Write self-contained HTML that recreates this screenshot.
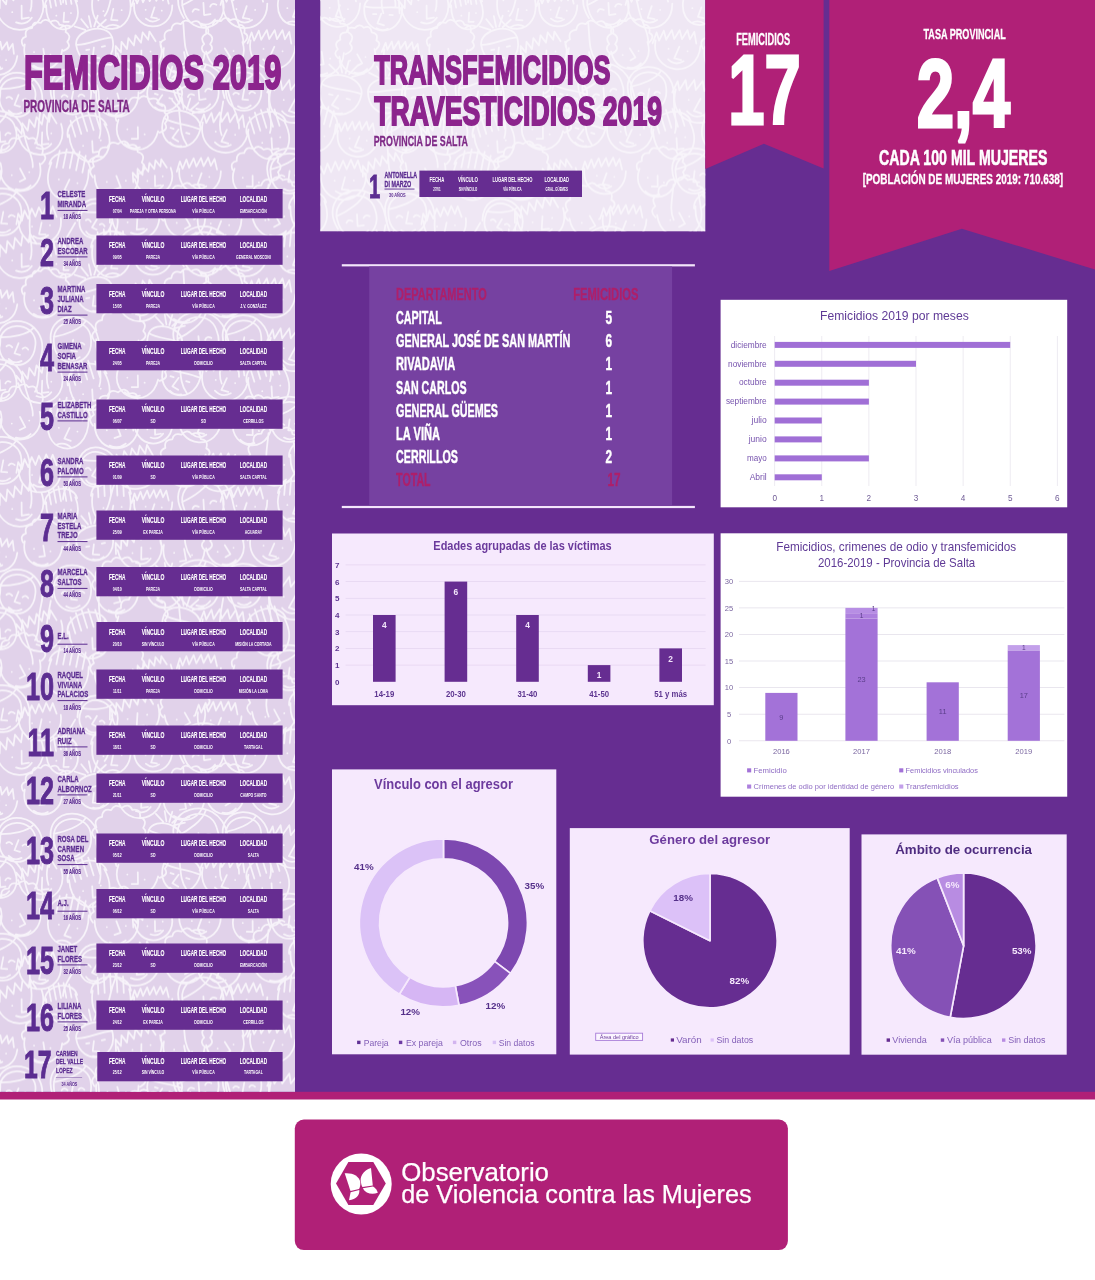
<!DOCTYPE html>
<html lang="es"><head><meta charset="utf-8"><title>Femicidios 2019 - Provincia de Salta</title>
<style>html,body{margin:0;padding:0;background:#fff}svg{display:block;font-family:"Liberation Sans",sans-serif}</style></head><body>
<svg width="1095" height="1280" viewBox="0 0 1095 1280">
<defs><pattern id="faces" width="405" height="248.4" patternUnits="userSpaceOnUse"><path d="M-3.8,9.2C4.6,44.6 53.5,30.3 41.5,-4.0M-5.4,13.4L-6.1,1.3L-0.3,8.2L0.1,-3.3L6.1,4.4L7.4,-7.3L13.5,0.4L15.0,-10.5L21.1,-2.8L22.6,-13.7L28.7,-6.0L29.9,-14.8L36.7,-4.5M21.6,5.6L21.7,18.8L28.9,17.6M16.1,22.3Q25.7,26.1 31.8,17.7M12.2,12.1L12.3,12.1M31.4,6.5L31.5,6.5M-3.8,257.6C4.6,293.0 53.5,278.7 41.5,244.4M-5.4,261.8L-6.1,249.7L-0.3,256.6L0.1,245.1L6.1,252.8L7.4,241.1L13.5,248.8L15.0,237.9L21.1,245.6L22.6,234.7L28.7,242.4L29.9,233.6L36.7,243.9M21.6,254.0L21.7,267.2L28.9,266.0M16.1,270.7Q25.7,274.5 31.8,266.1M12.2,260.5L12.3,260.5M31.4,254.9L31.5,254.9M401.2,9.2C409.6,44.6 458.5,30.3 446.5,-4.0M399.6,13.4L398.9,1.3L404.7,8.2L405.1,-3.3L411.1,4.4L412.4,-7.3L418.5,0.4L420.0,-10.5L426.1,-2.8L427.6,-13.7L433.7,-6.0L434.9,-14.8L441.7,-4.5M426.6,5.6L426.7,18.8L433.9,17.6M421.1,22.3Q430.7,26.1 436.8,17.7M417.2,12.1L417.3,12.1M436.4,6.5L436.5,6.5M401.2,257.6C409.6,293.0 458.5,278.7 446.5,244.4M399.6,261.8L398.9,249.7L404.7,256.6L405.1,245.1L411.1,252.8L412.4,241.1L418.5,248.8L420.0,237.9L426.1,245.6L427.6,234.7L433.7,242.4L434.9,233.6L441.7,243.9M426.6,254.0L426.7,267.2L433.9,266.0M421.1,270.7Q430.7,274.5 436.8,266.1M417.2,260.5L417.3,260.5M436.4,254.9L436.5,254.9M46.2,5.4C45.3,41.7 89.0,33.8 75.3,0.2M45.0,7.2C43.6,-9.1 72.7,-14.4 77.1,1.4M48.7,-5.5L51.1,7.6M53.4,-8.6L56.1,5.9M58.4,-10.3L61.0,4.3M63.6,-10.5L66.3,4.1M69.1,-9.2L71.5,3.9M64.1,12.7L63.5,21.9L68.7,21.7M56.3,15.6L56.4,15.6M70.9,13.0L71.0,13.0M59.4,28.6Q64.6,23.9 71.1,26.5M46.2,253.8C45.3,290.1 89.0,282.2 75.3,248.6M45.0,255.6C43.6,239.3 72.7,234.0 77.1,249.8M48.7,242.9L51.1,256.0M53.4,239.8L56.1,254.3M58.4,238.1L61.0,252.7M63.6,237.9L66.3,252.5M69.1,239.2L71.5,252.3M64.1,261.1L63.5,270.3L68.7,270.1M56.3,264.0L56.4,264.0M70.9,261.4L71.0,261.4M59.4,277.0Q64.6,272.3 71.1,274.9M92.7,-3.0C85.7,41.1 140.3,38.5 129.1,-4.7M91.0,-1.1C91.9,-21.2 128.2,-22.9 131.0,-3.0M97.6,-16.0L98.4,0.4M103.8,-19.0L104.7,-0.8M110.1,-20.2L111.0,-2.0M116.5,-19.6L117.4,-1.4M123.0,-17.2L123.8,-0.8M113.3,8.8L111.1,19.8L117.5,20.4M103.4,11.1L103.5,11.1M121.6,10.2L121.7,10.2M105.1,27.4Q112.2,22.5 119.7,26.7M92.7,245.4C85.7,289.5 140.3,286.9 129.1,243.7M91.0,247.3C91.9,227.2 128.2,225.5 131.0,245.4M97.6,232.4L98.4,248.8M103.8,229.4L104.7,247.6M110.1,228.2L111.0,246.4M116.5,228.8L117.4,247.0M123.0,231.2L123.8,247.6M113.3,257.2L111.1,268.2L117.5,268.8M103.4,259.5L103.5,259.5M121.6,258.6L121.7,258.6M105.1,275.8Q112.2,270.9 119.7,275.1M134.2,3.3C131.2,32.5 172.2,34.7 172.3,5.3M131.8,6.1L134.5,-3.3L137.1,3.4L140.5,-5.2L143.0,2.3L147.2,-6.3L149.7,1.2L153.8,-6.7L156.3,0.8L160.4,-7.1L163.0,0.4L166.3,-6.1L168.7,3.6M154.5,7.3L151.1,17.4L156.9,18.4M145.9,18.6Q152.2,24.1 159.0,19.3M145.6,9.8L145.7,9.8M161.7,10.6L161.8,10.6M134.2,251.7C131.2,280.9 172.2,283.1 172.3,253.7M131.8,254.5L134.5,245.1L137.1,251.8L140.5,243.2L143.0,250.7L147.2,242.1L149.7,249.6L153.8,241.7L156.3,249.2L160.4,241.3L163.0,248.8L166.3,242.3L168.7,252.0M154.5,255.7L151.1,265.8L156.9,266.8M145.9,267.0Q152.2,272.5 159.0,267.7M145.6,258.2L145.7,258.2M161.7,259.0L161.8,259.0M183.1,8.7C190.6,41.0 232.9,28.6 221.9,-2.6C214.6,-27.3 175.9,-15.9 183.1,8.7M183.9,18.1C158.7,-22.3 223.9,-41.4 232.9,5.6C236.3,23.8 244.7,32.8 243.3,44.6M182.1,5.2C193.9,-0.1 208.2,-10.1 211.2,-19.5M203.4,2.8L204.1,15.0L210.5,14.1M192.6,11.7Q194.2,7.4 198.8,9.9M210.2,6.6Q211.8,2.3 216.4,4.7M200.9,23.6Q209.5,26.8 215.0,19.5M183.2,22.1C184.8,40.7 183.9,50.6 190.5,60.1M183.1,257.1C190.6,289.4 232.9,277.0 221.9,245.8C214.6,221.1 175.9,232.5 183.1,257.1M183.9,266.5C158.7,226.1 223.9,207.0 232.9,254.0C236.3,272.2 244.7,281.2 243.3,293.0M182.1,253.6C193.9,248.3 208.2,238.3 211.2,228.9M203.4,251.2L204.1,263.4L210.5,262.5M192.6,260.1Q194.2,255.8 198.8,258.3M210.2,255.0Q211.8,250.7 216.4,253.1M200.9,272.0Q209.5,275.2 215.0,267.9M183.2,270.5C184.8,289.1 183.9,299.0 190.5,308.5M223.2,1.7C219.9,35.5 267.4,37.6 267.3,3.6M220.5,4.9L223.5,-6.0L226.5,1.8L230.4,-8.2L233.4,0.4L238.1,-9.6L241.1,-0.9L245.8,-10.1L248.8,-1.4L253.4,-10.6L256.5,-2.0L260.2,-9.4L263.1,1.7M246.7,6.1L242.8,17.8L249.6,19.0M236.8,19.3Q244.2,25.5 252.1,19.9M236.4,9.0L236.5,9.1M255.1,9.9L255.2,9.9M223.2,250.1C219.9,283.9 267.4,286.0 267.3,252.0M220.5,253.3L223.5,242.4L226.5,250.2L230.4,240.2L233.4,248.8L238.1,238.8L241.1,247.5L245.8,238.3L248.8,247.0L253.4,237.8L256.5,246.4L260.2,239.0L263.1,250.1M246.7,254.5L242.8,266.2L249.6,267.4M236.8,267.7Q244.2,273.9 252.1,268.3M236.4,257.4L236.5,257.5M255.1,258.3L255.2,258.3M279.6,-5.4C268.2,32.4 316.4,36.6 311.7,-2.6M277.9,-3.9C281.0,-21.5 313.1,-18.6 313.2,-0.8M285.4,-16.2L284.2,-1.8M291.2,-18.1L289.8,-2.1M296.9,-18.4L295.5,-2.4M302.5,-17.2L301.1,-1.1M307.9,-14.3L306.6,0.2M296.3,7.4L293.0,16.8L298.6,18.1M287.3,8.2L287.4,8.2M303.4,9.6L303.5,9.6M286.9,22.7Q293.6,19.3 299.7,23.9M279.6,243.0C268.2,280.8 316.4,285.0 311.7,245.8M277.9,244.5C281.0,226.9 313.1,229.8 313.2,247.6M285.4,232.2L284.2,246.6M291.2,230.3L289.8,246.3M296.9,230.0L295.5,246.0M302.5,231.2L301.1,247.3M307.9,234.1L306.6,248.6M296.3,255.8L293.0,265.2L298.6,266.5M287.3,256.6L287.4,256.6M303.4,258.0L303.5,258.0M286.9,271.1Q293.6,267.7 299.7,272.3M316.8,0.1C312.7,33.3 359.2,36.8 360.1,3.4M314.1,3.3L317.4,-7.3L320.1,0.4L324.2,-9.3L326.9,-0.8L331.8,-10.4L334.5,-1.9L339.4,-10.7L342.1,-2.1L346.9,-11.0L349.6,-2.4L353.5,-9.7L356.0,1.4M339.9,5.2L335.7,16.6L342.3,17.9M329.7,17.8Q336.8,24.2 344.7,19.0M329.6,7.8L329.7,7.8M347.9,9.2L348.0,9.2M316.8,248.5C312.7,281.7 359.2,285.2 360.1,251.8M314.1,251.7L317.4,241.1L320.1,248.8L324.2,239.1L326.9,247.6L331.8,238.0L334.5,246.5L339.4,237.7L342.1,246.3L346.9,237.4L349.6,246.0L353.5,238.7L356.0,249.8M339.9,253.6L335.7,265.0L342.3,266.3M329.7,266.2Q336.8,272.6 344.7,267.4M329.6,256.2L329.7,256.2M347.9,257.6L348.0,257.6M-40.6,6.1C-43.9,37.3 -2.8,39.5 -2.7,8.1C-4.3,-8.5 -37.3,-10.3 -40.6,6.1M-24.2,-7.9L-28.6,-18.0M-20.9,-7.7L-20.3,-19.2M-17.6,-7.5L-11.3,-17.1M-27.6,-6.4L-37.1,-12.7M-14.4,-5.7L-4.2,-10.9M-40.6,6.1C-30.1,9.9 -16.6,5.7 -2.7,8.1M-23.7,13.6L-27.5,23.3L-21.0,25.3M-32.0,14.0L-28.7,14.1M-15.5,14.9L-12.2,15.0M-28.6,28.2Q-23.0,31.8 -17.1,28.8M-40.6,254.5C-43.9,285.7 -2.8,287.9 -2.7,256.5C-4.3,239.9 -37.3,238.1 -40.6,254.5M-24.2,240.5L-28.6,230.4M-20.9,240.7L-20.3,229.2M-17.6,240.9L-11.3,231.3M-27.6,242.0L-37.1,235.7M-14.4,242.7L-4.2,237.5M-40.6,254.5C-30.1,258.3 -16.6,254.1 -2.7,256.5M-23.7,262.0L-27.5,271.7L-21.0,273.7M-32.0,262.4L-28.7,262.5M-15.5,263.3L-12.2,263.4M-28.6,276.6Q-23.0,280.2 -17.1,277.2M364.4,6.1C361.1,37.3 402.2,39.5 402.3,8.1C400.7,-8.5 367.7,-10.3 364.4,6.1M380.8,-7.9L376.4,-18.0M384.1,-7.7L384.7,-19.2M387.4,-7.5L393.7,-17.1M377.4,-6.4L367.9,-12.7M390.6,-5.7L400.8,-10.9M364.4,6.1C374.9,9.9 388.4,5.7 402.3,8.1M381.3,13.6L377.5,23.3L384.0,25.3M373.0,14.0L376.3,14.1M389.5,14.9L392.8,15.0M376.4,28.2Q382.0,31.8 387.9,28.8M364.4,254.5C361.1,285.7 402.2,287.9 402.3,256.5C400.7,239.9 367.7,238.1 364.4,254.5M380.8,240.5L376.4,230.4M384.1,240.7L384.7,229.2M387.4,240.9L393.7,231.3M377.4,242.0L367.9,235.7M390.6,242.7L400.8,237.5M364.4,254.5C374.9,258.3 388.4,254.1 402.3,256.5M381.3,262.0L377.5,271.7L384.0,273.7M373.0,262.4L376.3,262.5M389.5,263.3L392.8,263.4M376.4,276.6Q382.0,280.2 387.9,277.2M-20.5,49.2C-27.2,78.0 13.6,85.3 17.3,55.9M-23.2,51.7L-19.4,42.7L-17.6,49.7L-13.2,41.5L-11.6,49.3L-6.4,41.2L-4.7,49.0L0.3,41.7L1.9,49.4L7.0,42.1L8.6,49.9L12.7,43.9L13.9,53.8M-0.7,55.7L-5.4,65.4L0.3,67.2M-10.8,66.0Q-5.1,72.2 2.3,68.3M-9.9,57.1L-9.9,57.1M6.1,59.9L6.1,60.0M384.5,49.2C377.8,78.0 418.6,85.3 422.3,55.9M381.8,51.7L385.6,42.7L387.4,49.7L391.8,41.5L393.4,49.3L398.6,41.2L400.3,49.0L405.3,41.7L406.9,49.4L412.0,42.1L413.6,49.9L417.7,43.9L418.9,53.8M404.3,55.7L399.6,65.4L405.3,67.2M394.2,66.0Q399.9,72.2 407.3,68.3M395.1,57.1L395.1,57.1M411.1,59.9L411.1,60.0M24.8,44.4C19.0,73.7 59.4,79.6 62.2,49.8M23.1,45.7Q19.3,38.8 26.0,36.6Q24.0,28.4 32.0,28.0Q33.1,20.2 40.7,22.9Q44.7,17.1 50.3,21.9Q57.2,18.1 59.5,24.8Q67.5,24.4 65.6,32.0Q72.2,35.4 67.3,41.8Q72.1,47.3 63.6,50.8M43.3,48.7L44.9,59.2L39.3,60.0M34.0,52.1L34.1,52.1M50.4,54.5L50.5,54.5M33.7,65.6Q40.1,70.5 47.8,66.8M24.8,292.8C19.0,322.1 59.4,328.0 62.2,298.2M23.1,294.1Q19.3,287.2 26.0,285.0Q24.0,276.8 32.0,276.4Q33.1,268.6 40.7,271.3Q44.7,265.5 50.3,270.3Q57.2,266.5 59.5,273.2Q67.5,272.8 65.6,280.4Q72.2,283.8 67.3,290.2Q72.1,295.7 63.6,299.2M43.3,297.1L44.9,307.6L39.3,308.4M34.0,300.5L34.1,300.5M50.4,302.9L50.5,302.9M33.7,314.0Q40.1,318.9 47.8,315.2M429.8,44.4C424.0,73.7 464.4,79.6 467.2,49.8M428.1,45.7Q424.3,38.8 431.0,36.6Q429.0,28.4 437.0,28.0Q438.1,20.2 445.7,22.9Q449.7,17.1 455.3,21.9Q462.2,18.1 464.5,24.8Q472.5,24.4 470.6,32.0Q477.2,35.4 472.3,41.8Q477.1,47.3 468.6,50.8M448.3,48.7L449.9,59.2L444.3,60.0M439.0,52.1L439.1,52.1M455.4,54.5L455.5,54.5M438.7,65.6Q445.1,70.5 452.8,66.8M429.8,292.8C424.0,322.1 464.4,328.0 467.2,298.2M428.1,294.1Q424.3,287.2 431.0,285.0Q429.0,276.8 437.0,276.4Q438.1,268.6 445.7,271.3Q449.7,265.5 455.3,270.3Q462.2,266.5 464.5,273.2Q472.5,272.8 470.6,280.4Q477.2,283.8 472.3,290.2Q477.1,295.7 468.6,299.2M448.3,297.1L449.9,307.6L444.3,308.4M439.0,300.5L439.1,300.5M455.4,302.9L455.5,302.9M438.7,314.0Q445.1,318.9 452.8,315.2M76.1,44.8C80.9,74.9 120.0,66.5 112.1,37.2C106.4,22.0 75.1,28.7 76.1,44.8M88.0,27.6L81.3,19.2M91.1,26.9L88.8,16.0M94.2,26.3L97.7,15.7M85.2,29.8L74.6,26.4M97.7,27.2L105.9,19.7M76.1,44.8C87.0,45.8 98.4,38.4 112.1,37.2M93.9,47.6L92.7,57.6L99.3,57.9M86.2,50.0L89.3,49.4M101.8,46.7L105.0,46.0M93.0,62.5Q99.1,64.4 103.9,60.1M76.1,293.2C80.9,323.3 120.0,314.9 112.1,285.6C106.4,270.4 75.1,277.1 76.1,293.2M88.0,276.0L81.3,267.6M91.1,275.3L88.8,264.4M94.2,274.7L97.7,264.1M85.2,278.2L74.6,274.8M97.7,275.6L105.9,268.1M76.1,293.2C87.0,294.2 98.4,286.8 112.1,285.6M93.9,296.0L92.7,306.0L99.3,306.3M86.2,298.4L89.3,297.8M101.8,295.1L105.0,294.4M93.0,310.9Q99.1,312.8 103.9,308.5M117.6,53.3C124.8,86.5 170.7,74.1 160.1,41.8M116.0,57.3L115.6,46.0L120.9,52.4L121.5,41.7L127.0,49.0L128.4,38.1L133.9,45.4L135.5,35.3L141.0,42.6L142.7,32.4L148.2,39.7L149.4,31.5L155.6,41.2M141.4,50.4L141.2,62.7L148.0,61.8M135.9,65.9Q144.9,69.7 150.7,61.9M132.5,56.3L132.5,56.3M150.5,51.4L150.6,51.4M117.6,301.7C124.8,334.9 170.7,322.5 160.1,290.2M116.0,305.7L115.6,294.4L120.9,300.8L121.5,290.1L127.0,297.4L128.4,286.5L133.9,293.8L135.5,283.7L141.0,291.0L142.7,280.8L148.2,288.1L149.4,279.9L155.6,289.6M141.4,298.8L141.2,311.1L148.0,310.2M135.9,314.3Q144.9,318.1 150.7,310.3M132.5,304.7L132.5,304.7M150.5,299.8L150.6,299.8M163.9,47.9C158.2,80.0 202.4,85.5 204.7,52.9M162.0,49.4Q157.7,42.0 165.0,39.4Q162.6,30.5 171.3,29.8Q172.4,21.3 180.7,24.1Q184.9,17.7 191.2,22.8Q198.6,18.5 201.2,25.7Q209.9,25.1 208.0,33.5Q215.3,37.0 210.1,44.1Q215.4,49.9 206.3,54.0M184.1,52.1L186.1,63.6L180.0,64.6M174.1,56.1L174.2,56.1M192.0,58.3L192.1,58.3M174.0,70.7Q181.2,75.9 189.4,71.8M206.2,51.6C212.2,80.7 251.6,70.4 242.5,42.1M205.1,53.5Q199.0,48.6 204.2,44.0Q199.2,37.2 206.4,33.7Q204.4,26.2 212.4,25.7Q213.8,18.9 220.9,21.1Q225.8,14.9 230.4,20.2Q237.5,16.7 238.8,24.5Q246.2,25.0 244.2,32.8Q250.6,35.9 244.3,42.4M224.8,48.3L230.4,57.4L225.5,60.3M217.6,55.0L217.7,55.0M233.5,50.9L233.6,50.9M222.5,67.5Q230.3,69.5 235.9,63.2M206.2,300.0C212.2,329.1 251.6,318.8 242.5,290.5M205.1,301.9Q199.0,297.0 204.2,292.4Q199.2,285.6 206.4,282.1Q204.4,274.6 212.4,274.1Q213.8,267.3 220.9,269.5Q225.8,263.3 230.4,268.6Q237.5,265.1 238.8,272.9Q246.2,273.4 244.2,281.2Q250.6,284.3 244.3,290.8M224.8,296.7L230.4,305.8L225.5,308.7M217.6,303.4L217.7,303.4M233.5,299.3L233.6,299.3M222.5,315.9Q230.3,317.9 235.9,311.6M250.6,40.2C244.5,74.4 292.8,80.6 295.4,45.9M247.6,43.3L251.6,32.4L254.1,40.6L258.8,30.7L261.2,39.7L266.8,30.0L269.2,39.0L274.7,30.1L277.0,39.1L282.5,30.2L284.9,39.3L289.3,31.9L291.3,43.6M274.3,46.7L269.3,58.3L276.1,60.0M263.1,59.3Q270.1,66.3 278.6,61.2M263.5,48.8L263.6,48.8M282.5,51.2L282.6,51.2M250.6,288.6C244.5,322.8 292.8,329.0 295.4,294.3M247.6,291.7L251.6,280.8L254.1,289.0L258.8,279.1L261.2,288.1L266.8,278.4L269.2,287.4L274.7,278.5L277.0,287.5L282.5,278.6L284.9,287.7L289.3,280.3L291.3,292.0M274.3,295.1L269.3,306.7L276.1,308.4M263.1,307.7Q270.1,314.7 278.6,309.6M263.5,297.2L263.6,297.2M282.5,299.6L282.6,299.6M299.9,46.9C293.4,81.5 341.0,88.0 343.9,52.9M297.9,48.5Q293.4,40.4 301.2,37.8Q298.8,28.1 308.2,27.5Q309.5,18.4 318.4,21.5Q323.0,14.6 329.7,20.2Q337.8,15.7 340.5,23.6Q349.9,23.0 347.7,32.0Q355.6,35.9 349.8,43.5Q355.5,49.9 345.6,54.1M321.7,51.8L323.7,64.2L317.0,65.1M310.8,55.9L310.9,55.9M330.1,58.5L330.2,58.5M310.5,71.7Q318.2,77.4 327.2,73.0M339.4,56.6C343.8,84.6 381.8,76.6 374.5,49.1M338.2,58.3Q332.6,53.4 337.8,49.2Q333.4,42.6 340.4,39.5Q338.8,32.2 346.4,32.2Q348.1,25.7 354.7,28.1Q359.7,22.5 363.8,27.7Q370.8,24.7 371.6,32.2Q378.7,33.0 376.4,40.3Q382.5,43.6 376.1,49.6M357.2,54.3L362.2,63.2L357.4,65.7M350.1,60.4L350.2,60.4M365.5,57.1L365.5,57.1M354.2,72.5Q361.6,74.8 367.2,69.0M0.0,92.1C-5.9,120.8 32.6,126.6 35.3,97.5C38.7,75.0 3.4,69.7 0.0,92.1M-2.8,99.9C-8.0,58.1 51.4,67.1 41.1,108.2C37.1,124.0 40.4,134.4 35.0,143.4M0.5,88.9C12.0,89.0 27.2,86.4 33.1,79.9M18.5,94.9L14.5,105.0L20.0,106.6M6.5,98.0Q9.4,95.2 12.2,98.9M22.6,100.5Q25.5,97.6 28.2,101.3M8.7,110.7Q14.4,116.5 21.6,112.6M-4.9,102.9C-10.5,118.5 -14.9,126.0 -13.2,136.1M405.0,92.1C399.1,120.8 437.6,126.6 440.3,97.5C443.7,75.0 408.4,69.7 405.0,92.1M402.2,99.9C397.0,58.1 456.4,67.1 446.1,108.2C442.1,124.0 445.4,134.4 440.0,143.4M405.5,88.9C417.0,89.0 432.2,86.4 438.1,79.9M423.5,94.9L419.5,105.0L425.0,106.6M411.5,98.0Q414.4,95.2 417.2,98.9M427.6,100.5Q430.5,97.6 433.2,101.3M413.7,110.7Q419.4,116.5 426.6,112.6M400.1,102.9C394.5,118.5 390.1,126.0 391.8,136.1M53.8,92.0C53.1,122.5 93.7,121.2 91.0,90.8C90.2,67.1 53.0,68.3 53.8,92.0M52.4,100.5C39.2,58.6 101.8,56.6 98.9,100.7C97.8,117.7 103.2,127.7 99.3,137.9M53.7,88.6C65.5,86.5 80.5,81.0 85.4,73.2M73.2,91.3L71.1,102.4L77.0,103.1M61.6,96.8Q64.0,93.3 67.5,96.6M78.5,96.3Q80.9,92.8 84.4,96.1M66.2,109.4Q73.1,114.2 79.7,108.9M50.8,103.9C47.9,120.9 44.8,129.5 48.5,139.6M96.2,90.9C93.3,124.4 139.2,125.8 138.5,92.2M94.3,92.6Q89.3,85.4 96.4,82.1Q93.2,73.2 102.1,71.7Q102.3,62.8 111.1,64.9Q114.9,57.9 121.8,62.6Q129.0,57.5 132.3,64.7Q141.2,63.2 140.0,72.0Q147.9,74.9 143.2,82.7Q149.2,88.2 140.2,93.2M117.3,93.3L120.4,104.9L114.2,106.5M107.4,98.3L107.5,98.3M125.9,98.9L126.0,98.9M108.7,113.4Q116.5,118.0 124.6,113.0M148.8,84.8C139.3,111.9 175.4,122.6 182.1,94.7C184.2,79.6 155.3,71.0 148.8,84.8M166.4,75.9L164.7,65.9M169.3,76.7L172.3,66.6M172.2,77.6L179.9,70.4M163.1,76.5L155.9,68.8M174.7,79.9L184.9,77.4M148.8,84.8C157.4,90.5 170.2,89.6 182.1,94.7M162.3,95.1L156.9,102.9L162.2,106.1M154.9,93.7L157.8,94.6M169.3,98.0L172.2,98.8M154.8,107.1Q159.1,111.5 165.0,110.1M178.4,94.2C186.6,126.0 228.3,112.8 216.6,82.1C208.9,57.7 170.7,69.8 178.4,94.2M179.4,103.4C153.5,63.8 217.8,43.5 227.7,90.0C231.5,107.9 240.0,116.7 239.0,128.5M177.3,90.7C188.9,85.1 202.9,74.9 205.6,65.5M198.4,87.8L199.4,100.0L205.7,98.9M187.9,96.9Q189.4,92.6 194.0,95.0M205.2,91.4Q206.8,87.1 211.3,89.5M196.3,108.6Q204.9,111.6 210.2,104.2M178.8,107.4C180.8,125.9 180.1,135.7 186.9,145.0M225.8,89.9C225.7,118.9 264.3,116.9 261.2,88.1C260.1,65.6 224.7,67.4 225.8,89.9M224.6,98.0C211.3,58.4 270.8,55.3 268.9,97.3C268.1,113.5 273.5,122.9 269.9,132.8M225.7,86.7C236.8,84.5 251.1,78.9 255.5,71.4M244.3,88.9L242.4,99.5L248.1,100.0M233.3,94.3Q235.6,91.0 238.9,94.0M249.4,93.5Q251.6,90.2 255.0,93.2M238.0,106.2Q244.6,110.7 250.8,105.5M223.2,101.3C220.8,117.5 218.0,125.7 221.7,135.2M270.8,89.3C260.5,125.5 311.8,137.2 318.3,100.2M267.2,92.3L272.7,81.1L274.4,90.1L280.6,80.0L282.2,90.0L289.3,80.1L290.8,90.0L297.7,81.0L299.3,91.0L306.1,82.0L307.7,92.0L313.3,84.6L314.2,97.3M295.5,98.8L288.9,110.8L296.1,113.4M282.1,111.2Q288.9,119.4 298.6,114.9M283.7,100.0L283.8,100.0M303.9,104.6L303.9,104.6M321.6,83.8C311.3,116.5 354.9,127.7 361.6,94.1C363.5,76.0 328.6,67.1 321.6,83.8M342.1,72.4L339.6,60.6M345.6,73.3L348.7,61.1M349.1,74.2L357.9,65.3M338.2,73.2L329.3,64.5M352.1,76.8L364.2,73.4M321.6,83.8C332.0,90.2 347.3,88.6 361.6,94.1M338.1,95.5L331.9,105.0L338.4,108.6M329.1,94.1L332.6,95.0M346.6,98.6L350.0,99.5M329.7,110.1Q334.9,115.1 341.9,113.2M-37.1,91.5C-36.8,122.3 3.7,119.7 0.1,89.1C-3.4,73.1 -35.7,75.1 -37.1,91.5M-22.7,75.9L-28.2,66.5M-19.5,75.7L-20.2,64.4M-16.2,75.5L-11.2,65.4M-25.8,77.8L-35.9,72.7M-12.9,76.9L-3.5,70.6M-37.1,91.5C-26.4,94.0 -13.8,88.4 0.1,89.1M-19.7,96.9L-22.3,106.8L-15.8,108.0M-27.8,98.2L-24.5,98.0M-11.6,97.2L-8.3,96.9M-22.8,111.7Q-17.0,114.6 -11.5,111.0M367.9,91.5C368.2,122.3 408.7,119.7 405.1,89.1C401.6,73.1 369.3,75.1 367.9,91.5M382.3,75.9L376.8,66.5M385.5,75.7L384.8,64.4M388.8,75.5L393.8,65.4M379.2,77.8L369.1,72.7M392.1,76.9L401.5,70.6M367.9,91.5C378.6,94.0 391.2,88.4 405.1,89.1M385.3,96.9L382.7,106.8L389.2,108.0M377.2,98.2L380.5,98.0M393.4,97.2L396.7,96.9M382.2,111.7Q388.0,114.6 393.5,111.0M-17.3,136.6C-11.4,163.6 24.1,153.7 15.2,127.5C9.5,106.8 -23.1,115.9 -17.3,136.6M-16.7,144.4C-37.4,110.3 17.3,95.0 24.4,134.5C27.0,149.7 33.9,157.4 32.7,167.3M-18.1,133.6C-8.2,129.3 3.9,121.1 6.5,113.2M-0.3,131.8L0.2,142.1L5.5,141.4M-9.4,139.2Q-8.0,135.6 -4.2,137.7M5.4,135.0Q6.8,131.5 10.5,133.6M-2.6,149.2Q4.5,152.0 9.2,145.9M-17.4,147.8C-16.2,163.4 -17.1,171.6 -11.7,179.7M387.7,136.6C393.6,163.6 429.1,153.7 420.2,127.5C414.5,106.8 381.9,115.9 387.7,136.6M388.3,144.4C367.6,110.3 422.3,95.0 429.4,134.5C432.0,149.7 438.9,157.4 437.7,167.3M386.9,133.6C396.8,129.3 408.9,121.1 411.5,113.2M404.7,131.8L405.2,142.1L410.5,141.4M395.6,139.2Q397.0,135.6 400.8,137.7M410.4,135.0Q411.8,131.5 415.5,133.6M402.4,149.2Q409.5,152.0 414.2,145.9M387.6,147.8C388.8,163.4 387.9,171.6 393.3,179.7M18.3,134.8C25.0,168.2 71.2,156.4 61.1,123.9M16.6,138.7L16.4,127.4L21.6,134.0L22.3,123.2L27.7,130.6L29.3,119.7L34.7,127.1L36.5,117.0L41.9,124.4L43.7,114.3L49.1,121.7L50.5,113.4L56.6,123.3M42.2,132.2L41.8,144.6L48.6,143.7M36.5,147.7Q45.4,151.6 51.3,143.9M33.1,138.0L33.2,138.0M51.3,133.4L51.3,133.4M423.3,134.8C430.0,168.2 476.2,156.4 466.1,123.9M421.6,138.7L421.4,127.4L426.6,134.0L427.3,123.2L432.7,130.6L434.3,119.7L439.7,127.1L441.5,117.0L446.9,124.4L448.7,114.3L454.1,121.7L455.5,113.4L461.6,123.3M447.2,132.2L446.8,144.6L453.6,143.7M441.5,147.7Q450.4,151.6 456.3,143.9M438.1,138.0L438.2,138.0M456.3,133.4L456.3,133.4M69.0,134.7C73.2,179.6 126.1,163.4 104.3,123.8M67.8,137.0C63.6,117.1 98.8,106.2 106.6,125.1M70.5,120.7L75.4,136.6M75.9,116.2L81.3,133.8M81.8,113.4L87.2,131.0M88.2,112.4L93.6,130.0M95.2,113.1L100.1,129.0M92.2,141.0L92.8,152.4L99.2,151.4M83.1,145.8L83.1,145.8M100.7,140.4L100.8,140.3M88.8,161.4Q94.5,154.8 102.9,157.0M118.5,119.6C107.7,150.4 150.5,163.0 158.1,131.2M116.4,120.7Q113.4,112.7 121.0,111.3Q120.1,102.1 128.8,102.9Q131.2,94.7 139.0,98.7Q144.2,93.1 149.6,99.2Q157.6,96.2 159.0,103.7Q167.7,104.5 164.5,112.5Q171.2,117.2 164.9,123.4Q169.2,130.0 159.5,132.5M137.8,127.0L138.0,138.7L131.7,138.7M127.3,129.3L127.4,129.3M144.6,134.4L144.7,134.4M124.8,143.8Q131.0,150.1 139.9,147.3M164.1,117.9C152.9,147.3 192.3,159.9 200.3,129.5C203.0,113.0 171.5,102.9 164.1,117.9M183.6,108.5L181.9,97.6M186.8,109.5L190.3,98.5M189.9,110.5L198.4,102.8M179.9,109.1L172.3,100.5M192.5,113.1L203.8,110.6M164.1,117.9C173.3,124.3 187.4,123.6 200.3,129.5M178.6,129.5L172.4,137.9L178.2,141.5M170.5,127.8L173.6,128.8M186.2,132.8L189.4,133.8M170.1,142.4Q174.6,147.3 181.2,146.0M202.8,122.3C195.5,157.2 244.7,165.0 248.5,129.6M199.6,125.4L204.0,114.4L206.3,122.9L211.5,112.9L213.6,122.2L219.7,112.4L221.8,121.7L227.7,112.8L229.9,122.1L235.8,113.1L237.9,122.5L242.7,115.1L244.4,127.1M226.8,129.8L221.4,141.5L228.3,143.5M214.9,142.3Q221.9,149.7 230.8,144.8M215.7,131.6L215.8,131.6M235.1,134.7L235.2,134.7M247.9,131.5C252.3,177.3 306.1,160.7 283.8,120.4M246.7,133.8C242.4,113.6 278.3,102.5 286.2,121.6M249.4,117.3L254.4,133.4M254.9,112.6L260.4,130.6M260.9,109.8L266.4,127.7M267.4,108.8L273.0,126.7M274.5,109.5L279.5,125.7M271.5,138.0L272.2,149.5L278.7,148.5M262.2,142.8L262.3,142.8M280.2,137.3L280.3,137.2M268.1,158.7Q273.9,152.0 282.5,154.2M301.3,115.3C281.6,154.4 333.4,168.2 335.8,124.5M299.1,116.5C305.9,98.0 340.4,107.2 337.1,126.7M309.7,104.5L305.5,120.1M316.4,103.6L311.8,120.8M322.7,104.3L318.1,121.6M328.5,106.8L323.9,124.1M333.9,111.0L329.7,126.5M317.1,132.4L311.7,142.1L317.5,144.6M307.1,131.6L307.2,131.6M324.4,136.2L324.5,136.2M303.8,147.4Q311.9,144.9 317.7,151.1M338.0,130.8C332.6,161.5 376.0,166.9 378.3,135.8M335.3,133.6L338.9,123.8L341.1,131.2L345.4,122.3L347.5,130.4L352.5,121.6L354.7,129.7L359.6,121.7L361.7,129.8L366.7,121.7L368.8,129.9L372.8,123.3L374.6,133.7M359.3,136.6L354.9,147.0L361.0,148.6M349.3,147.9Q355.6,154.2 363.2,149.6M349.6,138.5L349.7,138.5M366.7,140.6L366.8,140.6M-0.2,170.5C3.7,202.4 46.9,194.8 39.7,163.4M-1.6,172.4Q-7.8,166.6 -1.7,162.1Q-6.5,154.4 1.5,151.3Q0.1,143.0 8.7,143.2Q10.8,135.9 18.2,138.9Q24.0,132.8 28.5,138.8Q36.5,135.7 37.2,144.2Q45.1,145.3 42.2,153.6Q48.9,157.5 41.5,164.0M20.0,168.6L25.3,178.8L19.7,181.5M11.8,175.2L11.8,175.2M29.2,172.1L29.3,172.1M15.9,189.1Q24.1,191.9 30.7,185.6M404.8,170.5C408.7,202.4 451.9,194.8 444.7,163.4M403.4,172.4Q397.2,166.6 403.3,162.1Q398.5,154.4 406.5,151.3Q405.1,143.0 413.7,143.2Q415.8,135.9 423.2,138.9Q429.0,132.8 433.5,138.8Q441.5,135.7 442.2,144.2Q450.1,145.3 447.2,153.6Q453.9,157.5 446.5,164.0M425.0,168.6L430.3,178.8L424.7,181.5M416.8,175.2L416.8,175.2M434.2,172.1L434.3,172.1M420.9,189.1Q429.1,191.9 435.7,185.6M51.5,162.6C33.4,205.3 89.1,216.3 88.7,169.9M49.3,164.0C55.2,144.0 92.4,151.4 90.2,172.1M59.7,150.7L56.4,167.4M66.7,149.2L63.1,167.7M73.4,149.5L69.7,168.1M79.7,151.7L76.1,170.3M85.7,155.8L82.4,172.5M69.4,179.6L64.4,190.2L70.7,192.4M58.8,179.4L58.9,179.5M77.4,183.1L77.5,183.1M56.4,196.3Q64.8,193.2 71.3,199.3M94.6,175.4C94.9,209.8 141.9,206.9 138.0,172.7M92.9,177.3Q87.0,170.4 94.0,166.4Q89.9,157.6 98.8,155.2Q98.2,146.2 107.4,147.4Q110.5,140.0 118.0,144.0Q124.9,138.2 129.0,145.2Q137.9,142.8 137.6,151.9Q145.9,154.1 141.8,162.5Q148.5,167.5 139.8,173.5M116.4,175.9L120.7,187.4L114.5,189.6M106.8,181.9L106.9,181.9M125.8,180.7L125.9,180.7M109.6,197.1Q118.0,201.1 125.8,195.2M134.6,178.9C141.6,207.1 180.6,195.2 170.7,167.8M133.3,182.3L132.7,172.6L137.3,178.0L137.6,168.8L142.5,174.9L143.4,165.5L148.3,171.6L149.4,162.9L154.3,169.0L155.5,160.3L160.4,166.4L161.3,159.3L166.8,167.5M154.9,175.7L155.1,186.3L160.8,185.3M150.6,189.1Q158.3,192.1 163.1,185.3M147.4,181.0L147.4,181.0M162.7,176.4L162.7,176.3M179.4,168.6C175.7,200.3 220.4,203.3 220.9,171.3M176.8,171.6L179.9,161.4L182.6,168.8L186.4,159.4L189.1,167.6L193.7,158.3L196.4,166.5L201.0,158.0L203.6,166.1L208.2,157.6L210.9,165.8L214.5,158.9L217.0,169.4M201.6,173.2L197.6,184.2L204.0,185.4M191.9,185.4Q198.7,191.5 206.3,186.3M191.8,175.8L191.9,175.8M209.3,176.9L209.4,176.9M234.5,168.7C224.3,197.5 264.5,209.3 271.5,179.5M232.5,169.8Q229.7,162.2 236.8,161.0Q236.0,152.3 244.1,153.1Q246.4,145.3 253.6,149.2Q258.5,143.9 263.6,149.6Q271.1,146.7 272.4,153.8Q280.5,154.6 277.5,162.0Q283.8,166.4 277.9,172.2Q281.9,178.4 272.8,180.8M252.6,175.7L252.7,186.6L246.8,186.5M242.7,177.8L242.8,177.8M258.9,182.5L259.0,182.6M240.4,191.3Q246.2,197.2 254.5,194.7M270.6,172.9C272.0,202.8 311.7,198.7 307.0,169.2C304.6,146.0 268.3,149.7 270.6,172.9M269.8,181.3C254.0,141.2 315.2,134.9 315.4,178.3C315.5,195.0 321.5,204.4 318.3,214.8M270.3,169.6C281.7,166.7 296.1,160.2 300.3,152.3M289.6,170.9L288.3,181.9L294.1,182.2M278.6,177.1Q280.7,173.5 284.4,176.5M295.1,175.4Q297.2,171.8 300.9,174.8M284.0,189.1Q291.1,193.3 297.2,187.7M268.5,184.8C266.9,201.7 264.4,210.3 268.7,219.8M320.6,174.0C319.3,208.8 368.1,208.2 365.9,173.4M318.1,177.5L320.5,166.2L324.1,173.9L327.5,163.5L331.1,172.1L335.3,161.6L338.9,170.3L343.1,160.7L346.7,169.3L350.9,159.7L354.5,168.3L357.9,160.5L361.5,171.7M345.0,177.2L341.7,189.4L348.7,190.2M335.6,191.2Q343.6,197.2 351.3,191.0M334.6,180.8L334.7,180.8M353.8,180.5L353.9,180.5M-40.5,172.9C-34.4,204.7 9.6,194.0 0.4,162.9M-42.1,176.6L-42.2,165.8L-37.4,172.1L-36.5,161.9L-31.4,169.0L-29.8,158.6L-24.8,165.7L-22.9,156.1L-17.9,163.2L-16.0,153.6L-11.0,160.7L-9.6,152.8L-3.9,162.3M-17.7,170.7L-18.2,182.4L-11.7,181.7M-23.3,185.3Q-14.9,189.1 -9.1,181.9M-26.4,176.1L-26.3,176.1M-9.1,171.9L-9.0,171.9M364.5,172.9C370.6,204.7 414.6,194.0 405.4,162.9M362.9,176.6L362.8,165.8L367.6,172.1L368.5,161.9L373.6,169.0L375.2,158.6L380.2,165.7L382.1,156.1L387.1,163.2L389.0,153.6L394.0,160.7L395.4,152.8L401.1,162.3M387.3,170.7L386.8,182.4L393.3,181.7M381.7,185.3Q390.1,189.1 395.9,181.9M378.6,176.1L378.7,176.1M395.9,171.9L396.0,171.9M-16.6,-35.7C-17.1,-4.4 24.5,-6.2 21.4,-37.3C20.4,-61.5 -17.7,-59.9 -16.6,-35.7M-18.0,-27.0C-31.9,-69.7 32.1,-72.4 29.7,-27.2C28.6,-9.8 34.3,0.4 30.4,10.9M-16.8,-39.1C-4.7,-41.4 10.6,-47.2 15.5,-55.2M3.3,-36.5L1.1,-25.1L7.2,-24.5M-8.6,-30.8Q-6.2,-34.4 -2.6,-31.1M8.7,-31.5Q11.1,-35.1 14.7,-31.8M-3.8,-18.0Q3.4,-13.1 10.1,-18.6M-19.6,-23.4C-22.3,-6.0 -25.5,2.8 -21.6,13.1M-16.6,212.7C-17.1,244.0 24.5,242.2 21.4,211.1C20.4,186.9 -17.7,188.5 -16.6,212.7M-18.0,221.4C-31.9,178.7 32.1,176.0 29.7,221.2C28.6,238.6 34.3,248.8 30.4,259.3M-16.8,209.3C-4.7,207.0 10.6,201.2 15.5,193.2M3.3,211.9L1.1,223.3L7.2,223.9M-8.6,217.6Q-6.2,214.0 -2.6,217.3M8.7,216.9Q11.1,213.3 14.7,216.6M-3.8,230.4Q3.4,235.3 10.1,229.8M-19.6,225.0C-22.3,242.4 -25.5,251.2 -21.6,261.5M388.4,-35.7C387.9,-4.4 429.5,-6.2 426.4,-37.3C425.4,-61.5 387.3,-59.9 388.4,-35.7M387.0,-27.0C373.1,-69.7 437.1,-72.4 434.7,-27.2C433.6,-9.8 439.3,0.4 435.4,10.9M388.2,-39.1C400.3,-41.4 415.6,-47.2 420.5,-55.2M408.3,-36.5L406.1,-25.1L412.2,-24.5M396.4,-30.8Q398.8,-34.4 402.4,-31.1M413.7,-31.5Q416.1,-35.1 419.7,-31.8M401.2,-18.0Q408.4,-13.1 415.1,-18.6M385.4,-23.4C382.7,-6.0 379.5,2.8 383.4,13.1M388.4,212.7C387.9,244.0 429.5,242.2 426.4,211.1C425.4,186.9 387.3,188.5 388.4,212.7M387.0,221.4C373.1,178.7 437.1,176.0 434.7,221.2C433.6,238.6 439.3,248.8 435.4,259.3M388.2,209.3C400.3,207.0 415.6,201.2 420.5,193.2M408.3,211.9L406.1,223.3L412.2,223.9M396.4,217.6Q398.8,214.0 402.4,217.3M413.7,216.9Q416.1,213.3 419.7,216.6M401.2,230.4Q408.4,235.3 415.1,229.8M385.4,225.0C382.7,242.4 379.5,251.2 383.4,261.5M18.6,-27.5C19.2,5.0 64.5,2.0 60.8,-30.3M16.4,-24.1L18.2,-34.8L21.9,-27.7L24.5,-37.7L28.3,-29.8L31.7,-39.8L35.5,-31.9L38.9,-41.1L42.7,-33.2L46.2,-42.4L49.9,-34.5L52.7,-42.0L56.6,-31.6M41.6,-25.8L39.1,-14.2L45.6,-13.8M33.5,-12.2Q41.2,-7.0 48.1,-13.2M32.0,-21.9L32.1,-21.9M49.9,-23.1L50.0,-23.1M18.6,220.9C19.2,253.4 64.5,250.4 60.8,218.1M16.4,224.3L18.2,213.6L21.9,220.7L24.5,210.7L28.3,218.6L31.7,208.6L35.5,216.5L38.9,207.3L42.7,215.2L46.2,206.0L49.9,213.9L52.7,206.4L56.6,216.8M41.6,222.6L39.1,234.2L45.6,234.6M33.5,236.2Q41.2,241.4 48.1,235.2M32.0,226.5L32.1,226.5M49.9,225.3L50.0,225.3M423.6,-27.5C424.2,5.0 469.5,2.0 465.8,-30.3M421.4,-24.1L423.2,-34.8L426.9,-27.7L429.5,-37.7L433.3,-29.8L436.7,-39.8L440.5,-31.9L443.9,-41.1L447.7,-33.2L451.2,-42.4L454.9,-34.5L457.7,-42.0L461.6,-31.6M446.6,-25.8L444.1,-14.2L450.6,-13.8M438.5,-12.2Q446.2,-7.0 453.1,-13.2M437.0,-21.9L437.1,-21.9M454.9,-23.1L455.0,-23.1M423.6,220.9C424.2,253.4 469.5,250.4 465.8,218.1M421.4,224.3L423.2,213.6L426.9,220.7L429.5,210.7L433.3,218.6L436.7,208.6L440.5,216.5L443.9,207.3L447.7,215.2L451.2,206.0L454.9,213.9L457.7,206.4L461.6,216.8M446.6,222.6L444.1,234.2L450.6,234.6M438.5,236.2Q446.2,241.4 453.1,235.2M437.0,226.5L437.1,226.5M454.9,225.3L455.0,225.3M81.0,-34.3C71.7,-9.9 104.9,0.7 111.5,-24.6C117.7,-44.0 87.2,-53.7 81.0,-34.3M77.4,-27.9C78.8,-65.6 130.0,-49.2 115.0,-14.3C109.2,-0.9 110.7,8.7 104.6,15.9M81.9,-37.1C92.0,-35.4 105.8,-35.6 112.0,-40.5M96.9,-29.2L92.0,-20.9L96.6,-18.7M85.9,-28.2Q88.9,-30.3 90.8,-26.6M99.8,-23.8Q102.7,-25.9 104.6,-22.2M86.1,-16.7Q90.3,-10.8 97.1,-13.2M75.2,-25.5C68.0,-12.6 63.0,-6.6 63.1,2.6M81.0,214.1C71.7,238.5 104.9,249.1 111.5,223.8C117.7,204.4 87.2,194.7 81.0,214.1M77.4,220.5C78.8,182.8 130.0,199.2 115.0,234.1C109.2,247.5 110.7,257.1 104.6,264.3M81.9,211.3C92.0,213.0 105.8,212.8 112.0,207.9M96.9,219.2L92.0,227.5L96.6,229.7M85.9,220.2Q88.9,218.1 90.8,221.8M99.8,224.6Q102.7,222.5 104.6,226.2M86.1,231.7Q90.3,237.6 97.1,235.2M75.2,222.9C68.0,235.8 63.0,241.8 63.1,251.0M111.8,-29.9C118.1,6.0 167.8,-5.3 158.0,-40.4M109.9,-25.8L110.0,-37.9L115.4,-30.7L116.5,-42.2L122.1,-34.1L124.1,-45.8L129.6,-37.7L131.9,-48.5L137.4,-40.4L139.7,-51.2L145.2,-43.1L147.0,-51.9L153.1,-41.1M137.5,-32.0L136.7,-18.8L144.0,-19.5M130.9,-15.6Q140.3,-11.2 146.9,-19.2M127.6,-26.0L127.7,-26.1M147.1,-30.4L147.2,-30.5M111.8,218.5C118.1,254.4 167.8,243.1 158.0,208.0M109.9,222.6L110.0,210.5L115.4,217.7L116.5,206.2L122.1,214.3L124.1,202.6L129.6,210.7L131.9,199.9L137.4,208.0L139.7,197.2L145.2,205.3L147.0,196.5L153.1,207.3M137.5,216.4L136.7,229.6L144.0,228.9M130.9,232.8Q140.3,237.2 146.9,229.2M127.6,222.4L127.7,222.3M147.1,218.0L147.2,217.9M164.5,-29.8C169.7,2.0 212.7,-7.4 204.1,-38.5M163.2,-27.8Q156.8,-33.3 162.7,-38.0Q157.5,-45.6 165.4,-49.0Q163.6,-57.3 172.3,-57.5Q174.1,-64.8 181.6,-62.1Q187.1,-68.5 191.9,-62.6Q199.8,-66.1 200.8,-57.7Q208.8,-56.8 206.3,-48.5Q213.2,-44.8 206.0,-38.0M184.7,-32.5L190.3,-22.5L184.9,-19.5M176.7,-25.5L176.8,-25.5M194.0,-29.3L194.1,-29.3M181.4,-11.8Q189.8,-9.3 196.1,-15.9M164.5,218.6C169.7,250.4 212.7,241.0 204.1,209.9M163.2,220.6Q156.8,215.1 162.7,210.4Q157.5,202.8 165.4,199.4Q163.6,191.1 172.3,190.9Q174.1,183.6 181.6,186.3Q187.1,179.9 191.9,185.8Q199.8,182.3 200.8,190.7Q208.8,191.6 206.3,199.9Q213.2,203.6 206.0,210.4M184.7,215.9L190.3,225.9L184.9,228.9M176.7,222.9L176.8,222.9M194.0,219.1L194.1,219.1M181.4,236.6Q189.8,239.1 196.1,232.5M198.0,-32.9C193.1,0.5 240.0,4.9 241.5,-28.8M195.1,-29.8L198.7,-40.4L201.3,-32.6L205.6,-42.3L208.2,-33.6L213.3,-43.3L215.9,-34.6L220.9,-43.4L223.5,-34.7L228.5,-43.5L231.1,-34.8L235.2,-42.1L237.5,-30.8M221.1,-27.3L216.6,-15.9L223.3,-14.4M210.6,-14.8Q217.6,-8.2 225.7,-13.4M210.7,-24.9L210.8,-24.9M229.1,-23.2L229.2,-23.2M198.0,215.5C193.1,248.9 240.0,253.3 241.5,219.6M195.1,218.6L198.7,208.0L201.3,215.8L205.6,206.1L208.2,214.8L213.3,205.1L215.9,213.8L220.9,205.0L223.5,213.7L228.5,204.9L231.1,213.6L235.2,206.3L237.5,217.6M221.1,221.1L216.6,232.5L223.3,234.0M210.6,233.6Q217.6,240.2 225.7,235.0M210.7,223.5L210.8,223.5M229.1,225.2L229.2,225.2M252.1,-33.2C257.0,1.5 304.0,-7.6 295.5,-41.6M250.6,-31.1Q243.8,-37.2 250.3,-42.3Q245.0,-50.6 253.7,-54.2Q251.9,-63.2 261.3,-63.1Q263.5,-71.1 271.6,-68.0Q277.8,-74.8 282.8,-68.3Q291.5,-71.8 292.4,-62.6Q301.0,-61.5 298.1,-52.5Q305.5,-48.3 297.5,-41.1M274.2,-35.6L280.0,-24.6L274.1,-21.5M265.3,-28.3L265.3,-28.3M284.2,-31.9L284.3,-32.0M270.1,-13.2Q279.1,-10.3 286.1,-17.3M252.1,215.2C257.0,249.9 304.0,240.8 295.5,206.8M250.6,217.3Q243.8,211.2 250.3,206.1Q245.0,197.8 253.7,194.2Q251.9,185.2 261.3,185.3Q263.5,177.3 271.6,180.4Q277.8,173.6 282.8,180.1Q291.5,176.6 292.4,185.8Q301.0,186.9 298.1,195.9Q305.5,200.1 297.5,207.3M274.2,212.8L280.0,223.8L274.1,226.9M265.3,220.1L265.3,220.1M284.2,216.5L284.3,216.4M270.1,235.2Q279.1,238.1 286.1,231.1M290.5,-41.9C288.7,-0.0 339.4,-8.3 324.3,-47.4M289.1,-39.9C287.7,-58.8 321.5,-64.3 326.2,-46.0M293.6,-54.5L296.1,-39.3M299.1,-58.0L301.9,-41.2M304.9,-59.8L307.7,-43.0M310.9,-60.0L313.7,-43.1M317.3,-58.4L319.8,-43.2M311.0,-33.1L310.2,-22.6L316.2,-22.7M302.0,-29.9L302.1,-29.9M318.9,-32.7L319.0,-32.7M305.4,-14.9Q311.4,-20.2 318.9,-17.1M290.5,206.5C288.7,248.4 339.4,240.1 324.3,201.0M289.1,208.5C287.7,189.6 321.5,184.1 326.2,202.4M293.6,193.9L296.1,209.1M299.1,190.4L301.9,207.2M304.9,188.6L307.7,205.4M310.9,188.4L313.7,205.3M317.3,190.0L319.8,205.2M311.0,215.3L310.2,225.8L316.2,225.7M302.0,218.5L302.1,218.5M318.9,215.7L319.0,215.7M305.4,233.5Q311.4,228.2 318.9,231.3M337.3,-28.5C344.3,2.9 385.4,-8.8 375.0,-39.1C368.2,-63.1 330.5,-52.4 337.3,-28.5M338.0,-19.4C313.9,-58.8 377.3,-76.8 385.6,-31.0C388.7,-13.4 396.8,-4.6 395.4,6.9M336.3,-31.9C347.8,-37.0 361.8,-46.5 364.8,-55.7M357.0,-34.0L357.6,-22.2L363.8,-23.0M346.5,-25.5Q348.1,-29.7 352.5,-27.2M363.6,-30.4Q365.2,-34.5 369.6,-32.1M354.4,-13.9Q362.7,-10.7 368.1,-17.8M337.3,-15.5C338.7,2.6 337.7,12.1 344.0,21.4M337.3,219.9C344.3,251.3 385.4,239.6 375.0,209.3C368.2,185.3 330.5,196.0 337.3,219.9M338.0,229.0C313.9,189.6 377.3,171.6 385.6,217.4C388.7,235.0 396.8,243.8 395.4,255.3M336.3,216.5C347.8,211.4 361.8,201.9 364.8,192.7M357.0,214.4L357.6,226.2L363.8,225.4M346.5,222.9Q348.1,218.7 352.5,221.2M363.6,218.0Q365.2,213.9 369.6,216.3M354.4,234.5Q362.7,237.7 368.1,230.6M337.3,232.9C338.7,251.0 337.7,260.5 344.0,269.8" fill="none" stroke="#fff" stroke-width="1.75" stroke-linecap="round" stroke-linejoin="round" opacity="0.74"/></pattern></defs>
<rect x="0.0" y="0.0" width="1095.0" height="1280.0" fill="#fff"/>
<rect x="0.0" y="0.0" width="1095.0" height="1092.0" fill="#662d91"/>
<rect x="0.0" y="1091.8" width="1095.0" height="7.7" fill="#b02077"/>
<rect x="0.0" y="0.0" width="295.0" height="1091.8" fill="#e1d2ea"/>
<rect x="0" y="0" width="295.0" height="1091.8" fill="url(#faces)" opacity="1"/>
<rect x="320.3" y="0.0" width="385.0" height="231.3" fill="#efe7f4"/>
<rect x="320.3" y="0" width="385.0" height="231.3" fill="url(#faces)" opacity="0.8"/>
<path d="M705.3,0H823.6V168.4L763.9,143.8L705.3,169Z" fill="#b02077"/>
<path d="M829.3,0H1095V269.5L961.9,228.8L829.3,271Z" fill="#b02077"/>
<text x="763.2" y="45.1" font-size="16.3" font-weight="bold" fill="#fff" text-anchor="middle" textLength="54.1" lengthAdjust="spacingAndGlyphs" stroke="#fff" stroke-width="0.3" stroke-linejoin="miter" stroke-miterlimit="2">FEMICIDIOS</text>
<text x="764.4" y="123.9" font-size="98.6" font-weight="bold" fill="#fff" text-anchor="middle" textLength="72.5" lengthAdjust="spacingAndGlyphs" stroke="#fff" stroke-width="3" stroke-linejoin="miter" stroke-miterlimit="2">17</text>
<text x="964.6" y="38.9" font-size="15.1" font-weight="bold" fill="#fff" text-anchor="middle" textLength="82.3" lengthAdjust="spacingAndGlyphs" stroke="#fff" stroke-width="0.3" stroke-linejoin="miter" stroke-miterlimit="2">TASA PROVINCIAL</text>
<text x="963.4" y="126.8" font-size="95.5" font-weight="bold" fill="#fff" text-anchor="middle" textLength="93.5" lengthAdjust="spacingAndGlyphs" stroke="#fff" stroke-width="3" stroke-linejoin="miter" stroke-miterlimit="2">2,4</text>
<text x="963.2" y="164.5" font-size="22.2" font-weight="bold" fill="#fff" text-anchor="middle" textLength="168.3" lengthAdjust="spacingAndGlyphs" stroke="#fff" stroke-width="0.6" stroke-linejoin="miter" stroke-miterlimit="2">CADA 100 MIL MUJERES</text>
<text x="962.9" y="184.0" font-size="14" font-weight="bold" fill="#fff" text-anchor="middle" textLength="200.4" lengthAdjust="spacingAndGlyphs" stroke="#fff" stroke-width="0.3" stroke-linejoin="miter" stroke-miterlimit="2">[POBLACIÓN DE MUJERES 2019: 710.638]</text>
<text x="24.0" y="89.0" font-size="48.3" font-weight="bold" fill="#8c248d" textLength="257.3" lengthAdjust="spacingAndGlyphs" stroke="#8c248d" stroke-width="2.2" stroke-linejoin="miter" stroke-miterlimit="2">FEMICIDIOS 2019</text>
<text x="23.4" y="111.6" font-size="15.7" font-weight="bold" fill="#7f2a87" textLength="106.3" lengthAdjust="spacingAndGlyphs" stroke="#7f2a87" stroke-width="0.4" stroke-linejoin="miter" stroke-miterlimit="2">PROVINCIA DE SALTA</text>
<text x="374.3" y="83.6" font-size="40.4" font-weight="bold" fill="#8c248d" textLength="236.2" lengthAdjust="spacingAndGlyphs" stroke="#8c248d" stroke-width="1.9" stroke-linejoin="miter" stroke-miterlimit="2">TRANSFEMICIDIOS</text>
<text x="374.3" y="125.2" font-size="40.4" font-weight="bold" fill="#8c248d" textLength="287.7" lengthAdjust="spacingAndGlyphs" stroke="#8c248d" stroke-width="1.9" stroke-linejoin="miter" stroke-miterlimit="2">TRAVESTICIDIOS 2019</text>
<text x="373.7" y="146.2" font-size="14.2" font-weight="bold" fill="#7f2a87" textLength="94.3" lengthAdjust="spacingAndGlyphs" stroke="#7f2a87" stroke-width="0.3" stroke-linejoin="miter" stroke-miterlimit="2">PROVINCIA DE SALTA</text>
<rect x="96.4" y="189.0" width="186.2" height="29.3" fill="#662d91"/>
<text x="54.0" y="219.0" font-size="39.3" font-weight="bold" fill="#5c2d91" text-anchor="end" textLength="14.0" lengthAdjust="spacingAndGlyphs" stroke="#5c2d91" stroke-width="1.0" stroke-linejoin="miter" stroke-miterlimit="2">1</text>
<text x="117.2" y="201.7" font-size="8.4" font-weight="bold" fill="#fff" text-anchor="middle" textLength="16.5" lengthAdjust="spacingAndGlyphs" stroke="#fff" stroke-width="0.15" stroke-linejoin="miter" stroke-miterlimit="2">FECHA</text>
<text x="117.2" y="212.5" font-size="5.5" font-weight="bold" fill="#fff" text-anchor="middle" textLength="8.8" lengthAdjust="spacingAndGlyphs">07/04</text>
<text x="153.0" y="201.7" font-size="8.4" font-weight="bold" fill="#fff" text-anchor="middle" textLength="22.7" lengthAdjust="spacingAndGlyphs" stroke="#fff" stroke-width="0.15" stroke-linejoin="miter" stroke-miterlimit="2">VÍNCULO</text>
<text x="153.0" y="212.5" font-size="5.5" font-weight="bold" fill="#fff" text-anchor="middle" textLength="46.3" lengthAdjust="spacingAndGlyphs">PAREJA Y OTRA PERSONA</text>
<text x="203.5" y="201.7" font-size="8.4" font-weight="bold" fill="#fff" text-anchor="middle" textLength="45.5" lengthAdjust="spacingAndGlyphs" stroke="#fff" stroke-width="0.15" stroke-linejoin="miter" stroke-miterlimit="2">LUGAR DEL HECHO</text>
<text x="203.5" y="212.5" font-size="5.5" font-weight="bold" fill="#fff" text-anchor="middle" textLength="22.4" lengthAdjust="spacingAndGlyphs">VÍA PÚBLICA</text>
<text x="253.4" y="201.7" font-size="8.4" font-weight="bold" fill="#fff" text-anchor="middle" textLength="27.4" lengthAdjust="spacingAndGlyphs" stroke="#fff" stroke-width="0.15" stroke-linejoin="miter" stroke-miterlimit="2">LOCALIDAD</text>
<text x="253.4" y="212.5" font-size="5.5" font-weight="bold" fill="#fff" text-anchor="middle" textLength="26.8" lengthAdjust="spacingAndGlyphs">EMBARCACIÓN</text>
<text x="57.5" y="197.4" font-size="9.6" font-weight="bold" fill="#5c2d91" textLength="27.9" lengthAdjust="spacingAndGlyphs" stroke="#5c2d91" stroke-width="0.3" stroke-linejoin="miter" stroke-miterlimit="2">CELESTE</text>
<text x="57.5" y="207.1" font-size="9.6" font-weight="bold" fill="#5c2d91" textLength="28.6" lengthAdjust="spacingAndGlyphs" stroke="#5c2d91" stroke-width="0.3" stroke-linejoin="miter" stroke-miterlimit="2">MIRANDA</text>
<rect x="57.5" y="209.9" width="30.0" height="1.0" fill="#5c2d91"/>
<text x="72.3" y="219.4" font-size="6.3" font-weight="bold" fill="#5c2d91" text-anchor="middle" textLength="17.6" lengthAdjust="spacingAndGlyphs" stroke="#5c2d91" stroke-width="0.15" stroke-linejoin="miter" stroke-miterlimit="2">18 AÑOS</text>
<rect x="96.4" y="235.5" width="186.2" height="29.3" fill="#662d91"/>
<text x="54.0" y="265.5" font-size="39.3" font-weight="bold" fill="#5c2d91" text-anchor="end" textLength="14.0" lengthAdjust="spacingAndGlyphs" stroke="#5c2d91" stroke-width="1.0" stroke-linejoin="miter" stroke-miterlimit="2">2</text>
<text x="117.2" y="248.2" font-size="8.4" font-weight="bold" fill="#fff" text-anchor="middle" textLength="16.5" lengthAdjust="spacingAndGlyphs" stroke="#fff" stroke-width="0.15" stroke-linejoin="miter" stroke-miterlimit="2">FECHA</text>
<text x="117.2" y="259.0" font-size="5.5" font-weight="bold" fill="#fff" text-anchor="middle" textLength="8.8" lengthAdjust="spacingAndGlyphs">09/05</text>
<text x="153.0" y="248.2" font-size="8.4" font-weight="bold" fill="#fff" text-anchor="middle" textLength="22.7" lengthAdjust="spacingAndGlyphs" stroke="#fff" stroke-width="0.15" stroke-linejoin="miter" stroke-miterlimit="2">VÍNCULO</text>
<text x="153.0" y="259.0" font-size="5.5" font-weight="bold" fill="#fff" text-anchor="middle" textLength="14.0" lengthAdjust="spacingAndGlyphs">PAREJA</text>
<text x="203.5" y="248.2" font-size="8.4" font-weight="bold" fill="#fff" text-anchor="middle" textLength="45.5" lengthAdjust="spacingAndGlyphs" stroke="#fff" stroke-width="0.15" stroke-linejoin="miter" stroke-miterlimit="2">LUGAR DEL HECHO</text>
<text x="203.5" y="259.0" font-size="5.5" font-weight="bold" fill="#fff" text-anchor="middle" textLength="22.4" lengthAdjust="spacingAndGlyphs">VÍA PÚBLICA</text>
<text x="253.4" y="248.2" font-size="8.4" font-weight="bold" fill="#fff" text-anchor="middle" textLength="27.4" lengthAdjust="spacingAndGlyphs" stroke="#fff" stroke-width="0.15" stroke-linejoin="miter" stroke-miterlimit="2">LOCALIDAD</text>
<text x="253.4" y="259.0" font-size="5.5" font-weight="bold" fill="#fff" text-anchor="middle" textLength="34.9" lengthAdjust="spacingAndGlyphs">GENERAL MOSCONI</text>
<text x="57.5" y="243.9" font-size="9.6" font-weight="bold" fill="#5c2d91" textLength="25.9" lengthAdjust="spacingAndGlyphs" stroke="#5c2d91" stroke-width="0.3" stroke-linejoin="miter" stroke-miterlimit="2">ANDREA</text>
<text x="57.5" y="253.6" font-size="9.6" font-weight="bold" fill="#5c2d91" textLength="30.2" lengthAdjust="spacingAndGlyphs" stroke="#5c2d91" stroke-width="0.3" stroke-linejoin="miter" stroke-miterlimit="2">ESCOBAR</text>
<rect x="57.5" y="256.4" width="30.0" height="1.0" fill="#5c2d91"/>
<text x="72.3" y="265.9" font-size="6.3" font-weight="bold" fill="#5c2d91" text-anchor="middle" textLength="17.6" lengthAdjust="spacingAndGlyphs" stroke="#5c2d91" stroke-width="0.15" stroke-linejoin="miter" stroke-miterlimit="2">34 AÑOS</text>
<rect x="96.4" y="284.0" width="186.2" height="29.3" fill="#662d91"/>
<text x="54.0" y="314.0" font-size="39.3" font-weight="bold" fill="#5c2d91" text-anchor="end" textLength="14.0" lengthAdjust="spacingAndGlyphs" stroke="#5c2d91" stroke-width="1.0" stroke-linejoin="miter" stroke-miterlimit="2">3</text>
<text x="117.2" y="296.7" font-size="8.4" font-weight="bold" fill="#fff" text-anchor="middle" textLength="16.5" lengthAdjust="spacingAndGlyphs" stroke="#fff" stroke-width="0.15" stroke-linejoin="miter" stroke-miterlimit="2">FECHA</text>
<text x="117.2" y="307.5" font-size="5.5" font-weight="bold" fill="#fff" text-anchor="middle" textLength="8.8" lengthAdjust="spacingAndGlyphs">15/05</text>
<text x="153.0" y="296.7" font-size="8.4" font-weight="bold" fill="#fff" text-anchor="middle" textLength="22.7" lengthAdjust="spacingAndGlyphs" stroke="#fff" stroke-width="0.15" stroke-linejoin="miter" stroke-miterlimit="2">VÍNCULO</text>
<text x="153.0" y="307.5" font-size="5.5" font-weight="bold" fill="#fff" text-anchor="middle" textLength="14.0" lengthAdjust="spacingAndGlyphs">PAREJA</text>
<text x="203.5" y="296.7" font-size="8.4" font-weight="bold" fill="#fff" text-anchor="middle" textLength="45.5" lengthAdjust="spacingAndGlyphs" stroke="#fff" stroke-width="0.15" stroke-linejoin="miter" stroke-miterlimit="2">LUGAR DEL HECHO</text>
<text x="203.5" y="307.5" font-size="5.5" font-weight="bold" fill="#fff" text-anchor="middle" textLength="22.4" lengthAdjust="spacingAndGlyphs">VÍA PÚBLICA</text>
<text x="253.4" y="296.7" font-size="8.4" font-weight="bold" fill="#fff" text-anchor="middle" textLength="27.4" lengthAdjust="spacingAndGlyphs" stroke="#fff" stroke-width="0.15" stroke-linejoin="miter" stroke-miterlimit="2">LOCALIDAD</text>
<text x="253.4" y="307.5" font-size="5.5" font-weight="bold" fill="#fff" text-anchor="middle" textLength="26.3" lengthAdjust="spacingAndGlyphs">J.V. GONZÁLEZ</text>
<text x="57.5" y="292.4" font-size="9.6" font-weight="bold" fill="#5c2d91" textLength="27.9" lengthAdjust="spacingAndGlyphs" stroke="#5c2d91" stroke-width="0.3" stroke-linejoin="miter" stroke-miterlimit="2">MARTINA</text>
<text x="57.5" y="302.1" font-size="9.6" font-weight="bold" fill="#5c2d91" textLength="26.2" lengthAdjust="spacingAndGlyphs" stroke="#5c2d91" stroke-width="0.3" stroke-linejoin="miter" stroke-miterlimit="2">JULIANA</text>
<text x="57.5" y="311.8" font-size="9.6" font-weight="bold" fill="#5c2d91" textLength="14.1" lengthAdjust="spacingAndGlyphs" stroke="#5c2d91" stroke-width="0.3" stroke-linejoin="miter" stroke-miterlimit="2">DIAZ</text>
<rect x="57.5" y="314.6" width="30.0" height="1.0" fill="#5c2d91"/>
<text x="72.3" y="324.1" font-size="6.3" font-weight="bold" fill="#5c2d91" text-anchor="middle" textLength="17.6" lengthAdjust="spacingAndGlyphs" stroke="#5c2d91" stroke-width="0.15" stroke-linejoin="miter" stroke-miterlimit="2">25 AÑOS</text>
<rect x="96.4" y="341.0" width="186.2" height="29.3" fill="#662d91"/>
<text x="54.0" y="371.0" font-size="39.3" font-weight="bold" fill="#5c2d91" text-anchor="end" textLength="14.0" lengthAdjust="spacingAndGlyphs" stroke="#5c2d91" stroke-width="1.0" stroke-linejoin="miter" stroke-miterlimit="2">4</text>
<text x="117.2" y="353.7" font-size="8.4" font-weight="bold" fill="#fff" text-anchor="middle" textLength="16.5" lengthAdjust="spacingAndGlyphs" stroke="#fff" stroke-width="0.15" stroke-linejoin="miter" stroke-miterlimit="2">FECHA</text>
<text x="117.2" y="364.5" font-size="5.5" font-weight="bold" fill="#fff" text-anchor="middle" textLength="8.8" lengthAdjust="spacingAndGlyphs">24/05</text>
<text x="153.0" y="353.7" font-size="8.4" font-weight="bold" fill="#fff" text-anchor="middle" textLength="22.7" lengthAdjust="spacingAndGlyphs" stroke="#fff" stroke-width="0.15" stroke-linejoin="miter" stroke-miterlimit="2">VÍNCULO</text>
<text x="153.0" y="364.5" font-size="5.5" font-weight="bold" fill="#fff" text-anchor="middle" textLength="14.0" lengthAdjust="spacingAndGlyphs">PAREJA</text>
<text x="203.5" y="353.7" font-size="8.4" font-weight="bold" fill="#fff" text-anchor="middle" textLength="45.5" lengthAdjust="spacingAndGlyphs" stroke="#fff" stroke-width="0.15" stroke-linejoin="miter" stroke-miterlimit="2">LUGAR DEL HECHO</text>
<text x="203.5" y="364.5" font-size="5.5" font-weight="bold" fill="#fff" text-anchor="middle" textLength="18.6" lengthAdjust="spacingAndGlyphs">DOMICILIO</text>
<text x="253.4" y="353.7" font-size="8.4" font-weight="bold" fill="#fff" text-anchor="middle" textLength="27.4" lengthAdjust="spacingAndGlyphs" stroke="#fff" stroke-width="0.15" stroke-linejoin="miter" stroke-miterlimit="2">LOCALIDAD</text>
<text x="253.4" y="364.5" font-size="5.5" font-weight="bold" fill="#fff" text-anchor="middle" textLength="27.0" lengthAdjust="spacingAndGlyphs">SALTA CAPITAL</text>
<text x="57.5" y="349.4" font-size="9.6" font-weight="bold" fill="#5c2d91" textLength="24.2" lengthAdjust="spacingAndGlyphs" stroke="#5c2d91" stroke-width="0.3" stroke-linejoin="miter" stroke-miterlimit="2">GIMENA</text>
<text x="57.5" y="359.1" font-size="9.6" font-weight="bold" fill="#5c2d91" textLength="18.5" lengthAdjust="spacingAndGlyphs" stroke="#5c2d91" stroke-width="0.3" stroke-linejoin="miter" stroke-miterlimit="2">SOFIA</text>
<text x="57.5" y="368.8" font-size="9.6" font-weight="bold" fill="#5c2d91" textLength="29.9" lengthAdjust="spacingAndGlyphs" stroke="#5c2d91" stroke-width="0.3" stroke-linejoin="miter" stroke-miterlimit="2">BENASAR</text>
<rect x="57.5" y="371.6" width="30.0" height="1.0" fill="#5c2d91"/>
<text x="72.3" y="381.1" font-size="6.3" font-weight="bold" fill="#5c2d91" text-anchor="middle" textLength="17.6" lengthAdjust="spacingAndGlyphs" stroke="#5c2d91" stroke-width="0.15" stroke-linejoin="miter" stroke-miterlimit="2">24 AÑOS</text>
<rect x="96.4" y="399.5" width="186.2" height="29.3" fill="#662d91"/>
<text x="54.0" y="429.5" font-size="39.3" font-weight="bold" fill="#5c2d91" text-anchor="end" textLength="14.0" lengthAdjust="spacingAndGlyphs" stroke="#5c2d91" stroke-width="1.0" stroke-linejoin="miter" stroke-miterlimit="2">5</text>
<text x="117.2" y="412.2" font-size="8.4" font-weight="bold" fill="#fff" text-anchor="middle" textLength="16.5" lengthAdjust="spacingAndGlyphs" stroke="#fff" stroke-width="0.15" stroke-linejoin="miter" stroke-miterlimit="2">FECHA</text>
<text x="117.2" y="423.0" font-size="5.5" font-weight="bold" fill="#fff" text-anchor="middle" textLength="8.8" lengthAdjust="spacingAndGlyphs">06/07</text>
<text x="153.0" y="412.2" font-size="8.4" font-weight="bold" fill="#fff" text-anchor="middle" textLength="22.7" lengthAdjust="spacingAndGlyphs" stroke="#fff" stroke-width="0.15" stroke-linejoin="miter" stroke-miterlimit="2">VÍNCULO</text>
<text x="153.0" y="423.0" font-size="5.5" font-weight="bold" fill="#fff" text-anchor="middle" textLength="4.9" lengthAdjust="spacingAndGlyphs">SD</text>
<text x="203.5" y="412.2" font-size="8.4" font-weight="bold" fill="#fff" text-anchor="middle" textLength="45.5" lengthAdjust="spacingAndGlyphs" stroke="#fff" stroke-width="0.15" stroke-linejoin="miter" stroke-miterlimit="2">LUGAR DEL HECHO</text>
<text x="203.5" y="423.0" font-size="5.5" font-weight="bold" fill="#fff" text-anchor="middle" textLength="4.9" lengthAdjust="spacingAndGlyphs">SD</text>
<text x="253.4" y="412.2" font-size="8.4" font-weight="bold" fill="#fff" text-anchor="middle" textLength="27.4" lengthAdjust="spacingAndGlyphs" stroke="#fff" stroke-width="0.15" stroke-linejoin="miter" stroke-miterlimit="2">LOCALIDAD</text>
<text x="253.4" y="423.0" font-size="5.5" font-weight="bold" fill="#fff" text-anchor="middle" textLength="20.3" lengthAdjust="spacingAndGlyphs">CERRILLOS</text>
<text x="57.5" y="407.9" font-size="9.6" font-weight="bold" fill="#5c2d91" textLength="33.9" lengthAdjust="spacingAndGlyphs" stroke="#5c2d91" stroke-width="0.3" stroke-linejoin="miter" stroke-miterlimit="2">ELIZABETH</text>
<text x="57.5" y="417.6" font-size="9.6" font-weight="bold" fill="#5c2d91" textLength="30.2" lengthAdjust="spacingAndGlyphs" stroke="#5c2d91" stroke-width="0.3" stroke-linejoin="miter" stroke-miterlimit="2">CASTILLO</text>
<rect x="57.5" y="420.4" width="30.0" height="1.0" fill="#5c2d91"/>
<rect x="96.4" y="455.5" width="186.2" height="29.3" fill="#662d91"/>
<text x="54.0" y="485.5" font-size="39.3" font-weight="bold" fill="#5c2d91" text-anchor="end" textLength="14.0" lengthAdjust="spacingAndGlyphs" stroke="#5c2d91" stroke-width="1.0" stroke-linejoin="miter" stroke-miterlimit="2">6</text>
<text x="117.2" y="468.2" font-size="8.4" font-weight="bold" fill="#fff" text-anchor="middle" textLength="16.5" lengthAdjust="spacingAndGlyphs" stroke="#fff" stroke-width="0.15" stroke-linejoin="miter" stroke-miterlimit="2">FECHA</text>
<text x="117.2" y="479.0" font-size="5.5" font-weight="bold" fill="#fff" text-anchor="middle" textLength="8.8" lengthAdjust="spacingAndGlyphs">01/09</text>
<text x="153.0" y="468.2" font-size="8.4" font-weight="bold" fill="#fff" text-anchor="middle" textLength="22.7" lengthAdjust="spacingAndGlyphs" stroke="#fff" stroke-width="0.15" stroke-linejoin="miter" stroke-miterlimit="2">VÍNCULO</text>
<text x="153.0" y="479.0" font-size="5.5" font-weight="bold" fill="#fff" text-anchor="middle" textLength="4.9" lengthAdjust="spacingAndGlyphs">SD</text>
<text x="203.5" y="468.2" font-size="8.4" font-weight="bold" fill="#fff" text-anchor="middle" textLength="45.5" lengthAdjust="spacingAndGlyphs" stroke="#fff" stroke-width="0.15" stroke-linejoin="miter" stroke-miterlimit="2">LUGAR DEL HECHO</text>
<text x="203.5" y="479.0" font-size="5.5" font-weight="bold" fill="#fff" text-anchor="middle" textLength="22.4" lengthAdjust="spacingAndGlyphs">VÍA PÚBLICA</text>
<text x="253.4" y="468.2" font-size="8.4" font-weight="bold" fill="#fff" text-anchor="middle" textLength="27.4" lengthAdjust="spacingAndGlyphs" stroke="#fff" stroke-width="0.15" stroke-linejoin="miter" stroke-miterlimit="2">LOCALIDAD</text>
<text x="253.4" y="479.0" font-size="5.5" font-weight="bold" fill="#fff" text-anchor="middle" textLength="27.0" lengthAdjust="spacingAndGlyphs">SALTA CAPITAL</text>
<text x="57.5" y="463.9" font-size="9.6" font-weight="bold" fill="#5c2d91" textLength="25.9" lengthAdjust="spacingAndGlyphs" stroke="#5c2d91" stroke-width="0.3" stroke-linejoin="miter" stroke-miterlimit="2">SANDRA</text>
<text x="57.5" y="473.6" font-size="9.6" font-weight="bold" fill="#5c2d91" textLength="26.1" lengthAdjust="spacingAndGlyphs" stroke="#5c2d91" stroke-width="0.3" stroke-linejoin="miter" stroke-miterlimit="2">PALOMO</text>
<rect x="57.5" y="476.4" width="30.0" height="1.0" fill="#5c2d91"/>
<text x="72.3" y="485.9" font-size="6.3" font-weight="bold" fill="#5c2d91" text-anchor="middle" textLength="17.6" lengthAdjust="spacingAndGlyphs" stroke="#5c2d91" stroke-width="0.15" stroke-linejoin="miter" stroke-miterlimit="2">53 AÑOS</text>
<rect x="96.4" y="510.5" width="186.2" height="29.3" fill="#662d91"/>
<text x="54.0" y="540.5" font-size="39.3" font-weight="bold" fill="#5c2d91" text-anchor="end" textLength="14.0" lengthAdjust="spacingAndGlyphs" stroke="#5c2d91" stroke-width="1.0" stroke-linejoin="miter" stroke-miterlimit="2">7</text>
<text x="117.2" y="523.2" font-size="8.4" font-weight="bold" fill="#fff" text-anchor="middle" textLength="16.5" lengthAdjust="spacingAndGlyphs" stroke="#fff" stroke-width="0.15" stroke-linejoin="miter" stroke-miterlimit="2">FECHA</text>
<text x="117.2" y="534.0" font-size="5.5" font-weight="bold" fill="#fff" text-anchor="middle" textLength="8.8" lengthAdjust="spacingAndGlyphs">25/09</text>
<text x="153.0" y="523.2" font-size="8.4" font-weight="bold" fill="#fff" text-anchor="middle" textLength="22.7" lengthAdjust="spacingAndGlyphs" stroke="#fff" stroke-width="0.15" stroke-linejoin="miter" stroke-miterlimit="2">VÍNCULO</text>
<text x="153.0" y="534.0" font-size="5.5" font-weight="bold" fill="#fff" text-anchor="middle" textLength="19.7" lengthAdjust="spacingAndGlyphs">EX PAREJA</text>
<text x="203.5" y="523.2" font-size="8.4" font-weight="bold" fill="#fff" text-anchor="middle" textLength="45.5" lengthAdjust="spacingAndGlyphs" stroke="#fff" stroke-width="0.15" stroke-linejoin="miter" stroke-miterlimit="2">LUGAR DEL HECHO</text>
<text x="203.5" y="534.0" font-size="5.5" font-weight="bold" fill="#fff" text-anchor="middle" textLength="22.4" lengthAdjust="spacingAndGlyphs">VÍA PÚBLICA</text>
<text x="253.4" y="523.2" font-size="8.4" font-weight="bold" fill="#fff" text-anchor="middle" textLength="27.4" lengthAdjust="spacingAndGlyphs" stroke="#fff" stroke-width="0.15" stroke-linejoin="miter" stroke-miterlimit="2">LOCALIDAD</text>
<text x="253.4" y="534.0" font-size="5.5" font-weight="bold" fill="#fff" text-anchor="middle" textLength="17.5" lengthAdjust="spacingAndGlyphs">AGUARAY</text>
<text x="57.5" y="518.9" font-size="9.6" font-weight="bold" fill="#5c2d91" textLength="19.8" lengthAdjust="spacingAndGlyphs" stroke="#5c2d91" stroke-width="0.3" stroke-linejoin="miter" stroke-miterlimit="2">MARIA</text>
<text x="57.5" y="528.6" font-size="9.6" font-weight="bold" fill="#5c2d91" textLength="23.9" lengthAdjust="spacingAndGlyphs" stroke="#5c2d91" stroke-width="0.3" stroke-linejoin="miter" stroke-miterlimit="2">ESTELA</text>
<text x="57.5" y="538.3" font-size="9.6" font-weight="bold" fill="#5c2d91" textLength="20.2" lengthAdjust="spacingAndGlyphs" stroke="#5c2d91" stroke-width="0.3" stroke-linejoin="miter" stroke-miterlimit="2">TREJO</text>
<rect x="57.5" y="541.1" width="30.0" height="1.0" fill="#5c2d91"/>
<text x="72.3" y="550.6" font-size="6.3" font-weight="bold" fill="#5c2d91" text-anchor="middle" textLength="17.6" lengthAdjust="spacingAndGlyphs" stroke="#5c2d91" stroke-width="0.15" stroke-linejoin="miter" stroke-miterlimit="2">44 AÑOS</text>
<rect x="96.4" y="567.0" width="186.2" height="29.3" fill="#662d91"/>
<text x="54.0" y="597.0" font-size="39.3" font-weight="bold" fill="#5c2d91" text-anchor="end" textLength="14.0" lengthAdjust="spacingAndGlyphs" stroke="#5c2d91" stroke-width="1.0" stroke-linejoin="miter" stroke-miterlimit="2">8</text>
<text x="117.2" y="579.7" font-size="8.4" font-weight="bold" fill="#fff" text-anchor="middle" textLength="16.5" lengthAdjust="spacingAndGlyphs" stroke="#fff" stroke-width="0.15" stroke-linejoin="miter" stroke-miterlimit="2">FECHA</text>
<text x="117.2" y="590.5" font-size="5.5" font-weight="bold" fill="#fff" text-anchor="middle" textLength="8.8" lengthAdjust="spacingAndGlyphs">04/10</text>
<text x="153.0" y="579.7" font-size="8.4" font-weight="bold" fill="#fff" text-anchor="middle" textLength="22.7" lengthAdjust="spacingAndGlyphs" stroke="#fff" stroke-width="0.15" stroke-linejoin="miter" stroke-miterlimit="2">VÍNCULO</text>
<text x="153.0" y="590.5" font-size="5.5" font-weight="bold" fill="#fff" text-anchor="middle" textLength="14.0" lengthAdjust="spacingAndGlyphs">PAREJA</text>
<text x="203.5" y="579.7" font-size="8.4" font-weight="bold" fill="#fff" text-anchor="middle" textLength="45.5" lengthAdjust="spacingAndGlyphs" stroke="#fff" stroke-width="0.15" stroke-linejoin="miter" stroke-miterlimit="2">LUGAR DEL HECHO</text>
<text x="203.5" y="590.5" font-size="5.5" font-weight="bold" fill="#fff" text-anchor="middle" textLength="18.6" lengthAdjust="spacingAndGlyphs">DOMICILIO</text>
<text x="253.4" y="579.7" font-size="8.4" font-weight="bold" fill="#fff" text-anchor="middle" textLength="27.4" lengthAdjust="spacingAndGlyphs" stroke="#fff" stroke-width="0.15" stroke-linejoin="miter" stroke-miterlimit="2">LOCALIDAD</text>
<text x="253.4" y="590.5" font-size="5.5" font-weight="bold" fill="#fff" text-anchor="middle" textLength="27.0" lengthAdjust="spacingAndGlyphs">SALTA CAPITAL</text>
<text x="57.5" y="575.4" font-size="9.6" font-weight="bold" fill="#5c2d91" textLength="30.2" lengthAdjust="spacingAndGlyphs" stroke="#5c2d91" stroke-width="0.3" stroke-linejoin="miter" stroke-miterlimit="2">MARCELA</text>
<text x="57.5" y="585.1" font-size="9.6" font-weight="bold" fill="#5c2d91" textLength="24.0" lengthAdjust="spacingAndGlyphs" stroke="#5c2d91" stroke-width="0.3" stroke-linejoin="miter" stroke-miterlimit="2">SALTOS</text>
<rect x="57.5" y="587.9" width="30.0" height="1.0" fill="#5c2d91"/>
<text x="72.3" y="597.4" font-size="6.3" font-weight="bold" fill="#5c2d91" text-anchor="middle" textLength="17.6" lengthAdjust="spacingAndGlyphs" stroke="#5c2d91" stroke-width="0.15" stroke-linejoin="miter" stroke-miterlimit="2">44 AÑOS</text>
<rect x="96.4" y="622.0" width="186.2" height="29.3" fill="#662d91"/>
<text x="54.0" y="652.0" font-size="39.3" font-weight="bold" fill="#5c2d91" text-anchor="end" textLength="14.0" lengthAdjust="spacingAndGlyphs" stroke="#5c2d91" stroke-width="1.0" stroke-linejoin="miter" stroke-miterlimit="2">9</text>
<text x="117.2" y="634.7" font-size="8.4" font-weight="bold" fill="#fff" text-anchor="middle" textLength="16.5" lengthAdjust="spacingAndGlyphs" stroke="#fff" stroke-width="0.15" stroke-linejoin="miter" stroke-miterlimit="2">FECHA</text>
<text x="117.2" y="645.5" font-size="5.5" font-weight="bold" fill="#fff" text-anchor="middle" textLength="8.8" lengthAdjust="spacingAndGlyphs">20/10</text>
<text x="153.0" y="634.7" font-size="8.4" font-weight="bold" fill="#fff" text-anchor="middle" textLength="22.7" lengthAdjust="spacingAndGlyphs" stroke="#fff" stroke-width="0.15" stroke-linejoin="miter" stroke-miterlimit="2">VÍNCULO</text>
<text x="153.0" y="645.5" font-size="5.5" font-weight="bold" fill="#fff" text-anchor="middle" textLength="22.7" lengthAdjust="spacingAndGlyphs">SIN VÍNCULO</text>
<text x="203.5" y="634.7" font-size="8.4" font-weight="bold" fill="#fff" text-anchor="middle" textLength="45.5" lengthAdjust="spacingAndGlyphs" stroke="#fff" stroke-width="0.15" stroke-linejoin="miter" stroke-miterlimit="2">LUGAR DEL HECHO</text>
<text x="203.5" y="645.5" font-size="5.5" font-weight="bold" fill="#fff" text-anchor="middle" textLength="22.4" lengthAdjust="spacingAndGlyphs">VÍA PÚBLICA</text>
<text x="253.4" y="634.7" font-size="8.4" font-weight="bold" fill="#fff" text-anchor="middle" textLength="27.4" lengthAdjust="spacingAndGlyphs" stroke="#fff" stroke-width="0.15" stroke-linejoin="miter" stroke-miterlimit="2">LOCALIDAD</text>
<text x="253.4" y="645.5" font-size="5.5" font-weight="bold" fill="#fff" text-anchor="middle" textLength="36.4" lengthAdjust="spacingAndGlyphs">MISIÓN LA CORTADA</text>
<text x="57.5" y="639.0" font-size="9.6" font-weight="bold" fill="#5c2d91" textLength="11.1" lengthAdjust="spacingAndGlyphs" stroke="#5c2d91" stroke-width="0.3" stroke-linejoin="miter" stroke-miterlimit="2">E.L.</text>
<rect x="57.5" y="643.7" width="30.0" height="1.0" fill="#5c2d91"/>
<text x="72.3" y="653.2" font-size="6.3" font-weight="bold" fill="#5c2d91" text-anchor="middle" textLength="17.6" lengthAdjust="spacingAndGlyphs" stroke="#5c2d91" stroke-width="0.15" stroke-linejoin="miter" stroke-miterlimit="2">14 AÑOS</text>
<rect x="96.4" y="669.5" width="186.2" height="29.3" fill="#662d91"/>
<text x="54.0" y="699.5" font-size="39.3" font-weight="bold" fill="#5c2d91" text-anchor="end" textLength="28.0" lengthAdjust="spacingAndGlyphs" stroke="#5c2d91" stroke-width="1.0" stroke-linejoin="miter" stroke-miterlimit="2">10</text>
<text x="117.2" y="682.2" font-size="8.4" font-weight="bold" fill="#fff" text-anchor="middle" textLength="16.5" lengthAdjust="spacingAndGlyphs" stroke="#fff" stroke-width="0.15" stroke-linejoin="miter" stroke-miterlimit="2">FECHA</text>
<text x="117.2" y="693.0" font-size="5.5" font-weight="bold" fill="#fff" text-anchor="middle" textLength="8.4" lengthAdjust="spacingAndGlyphs">11/11</text>
<text x="153.0" y="682.2" font-size="8.4" font-weight="bold" fill="#fff" text-anchor="middle" textLength="22.7" lengthAdjust="spacingAndGlyphs" stroke="#fff" stroke-width="0.15" stroke-linejoin="miter" stroke-miterlimit="2">VÍNCULO</text>
<text x="153.0" y="693.0" font-size="5.5" font-weight="bold" fill="#fff" text-anchor="middle" textLength="14.0" lengthAdjust="spacingAndGlyphs">PAREJA</text>
<text x="203.5" y="682.2" font-size="8.4" font-weight="bold" fill="#fff" text-anchor="middle" textLength="45.5" lengthAdjust="spacingAndGlyphs" stroke="#fff" stroke-width="0.15" stroke-linejoin="miter" stroke-miterlimit="2">LUGAR DEL HECHO</text>
<text x="203.5" y="693.0" font-size="5.5" font-weight="bold" fill="#fff" text-anchor="middle" textLength="18.6" lengthAdjust="spacingAndGlyphs">DOMICILIO</text>
<text x="253.4" y="682.2" font-size="8.4" font-weight="bold" fill="#fff" text-anchor="middle" textLength="27.4" lengthAdjust="spacingAndGlyphs" stroke="#fff" stroke-width="0.15" stroke-linejoin="miter" stroke-miterlimit="2">LOCALIDAD</text>
<text x="253.4" y="693.0" font-size="5.5" font-weight="bold" fill="#fff" text-anchor="middle" textLength="29.4" lengthAdjust="spacingAndGlyphs">MISIÓN LA LOMA</text>
<text x="57.5" y="677.9" font-size="9.6" font-weight="bold" fill="#5c2d91" textLength="25.5" lengthAdjust="spacingAndGlyphs" stroke="#5c2d91" stroke-width="0.3" stroke-linejoin="miter" stroke-miterlimit="2">RAQUEL</text>
<text x="57.5" y="687.6" font-size="9.6" font-weight="bold" fill="#5c2d91" textLength="24.5" lengthAdjust="spacingAndGlyphs" stroke="#5c2d91" stroke-width="0.3" stroke-linejoin="miter" stroke-miterlimit="2">VIVIANA</text>
<text x="57.5" y="697.3" font-size="9.6" font-weight="bold" fill="#5c2d91" textLength="30.8" lengthAdjust="spacingAndGlyphs" stroke="#5c2d91" stroke-width="0.3" stroke-linejoin="miter" stroke-miterlimit="2">PALACIOS</text>
<rect x="57.5" y="700.1" width="30.0" height="1.0" fill="#5c2d91"/>
<text x="72.3" y="709.6" font-size="6.3" font-weight="bold" fill="#5c2d91" text-anchor="middle" textLength="17.6" lengthAdjust="spacingAndGlyphs" stroke="#5c2d91" stroke-width="0.15" stroke-linejoin="miter" stroke-miterlimit="2">18 AÑOS</text>
<rect x="96.4" y="725.5" width="186.2" height="29.3" fill="#662d91"/>
<text x="54.0" y="755.5" font-size="39.3" font-weight="bold" fill="#5c2d91" text-anchor="end" textLength="26.6" lengthAdjust="spacingAndGlyphs" stroke="#5c2d91" stroke-width="1.0" stroke-linejoin="miter" stroke-miterlimit="2">11</text>
<text x="117.2" y="738.2" font-size="8.4" font-weight="bold" fill="#fff" text-anchor="middle" textLength="16.5" lengthAdjust="spacingAndGlyphs" stroke="#fff" stroke-width="0.15" stroke-linejoin="miter" stroke-miterlimit="2">FECHA</text>
<text x="117.2" y="749.0" font-size="5.5" font-weight="bold" fill="#fff" text-anchor="middle" textLength="8.6" lengthAdjust="spacingAndGlyphs">18/11</text>
<text x="153.0" y="738.2" font-size="8.4" font-weight="bold" fill="#fff" text-anchor="middle" textLength="22.7" lengthAdjust="spacingAndGlyphs" stroke="#fff" stroke-width="0.15" stroke-linejoin="miter" stroke-miterlimit="2">VÍNCULO</text>
<text x="153.0" y="749.0" font-size="5.5" font-weight="bold" fill="#fff" text-anchor="middle" textLength="4.9" lengthAdjust="spacingAndGlyphs">SD</text>
<text x="203.5" y="738.2" font-size="8.4" font-weight="bold" fill="#fff" text-anchor="middle" textLength="45.5" lengthAdjust="spacingAndGlyphs" stroke="#fff" stroke-width="0.15" stroke-linejoin="miter" stroke-miterlimit="2">LUGAR DEL HECHO</text>
<text x="203.5" y="749.0" font-size="5.5" font-weight="bold" fill="#fff" text-anchor="middle" textLength="18.6" lengthAdjust="spacingAndGlyphs">DOMICILIO</text>
<text x="253.4" y="738.2" font-size="8.4" font-weight="bold" fill="#fff" text-anchor="middle" textLength="27.4" lengthAdjust="spacingAndGlyphs" stroke="#fff" stroke-width="0.15" stroke-linejoin="miter" stroke-miterlimit="2">LOCALIDAD</text>
<text x="253.4" y="749.0" font-size="5.5" font-weight="bold" fill="#fff" text-anchor="middle" textLength="18.8" lengthAdjust="spacingAndGlyphs">TARTAGAL</text>
<text x="57.5" y="733.9" font-size="9.6" font-weight="bold" fill="#5c2d91" textLength="27.9" lengthAdjust="spacingAndGlyphs" stroke="#5c2d91" stroke-width="0.3" stroke-linejoin="miter" stroke-miterlimit="2">ADRIANA</text>
<text x="57.5" y="743.6" font-size="9.6" font-weight="bold" fill="#5c2d91" textLength="14.1" lengthAdjust="spacingAndGlyphs" stroke="#5c2d91" stroke-width="0.3" stroke-linejoin="miter" stroke-miterlimit="2">RUIZ</text>
<rect x="57.5" y="746.4" width="30.0" height="1.0" fill="#5c2d91"/>
<text x="72.3" y="755.9" font-size="6.3" font-weight="bold" fill="#5c2d91" text-anchor="middle" textLength="17.6" lengthAdjust="spacingAndGlyphs" stroke="#5c2d91" stroke-width="0.15" stroke-linejoin="miter" stroke-miterlimit="2">36 AÑOS</text>
<rect x="96.4" y="773.5" width="186.2" height="29.3" fill="#662d91"/>
<text x="54.0" y="803.5" font-size="39.3" font-weight="bold" fill="#5c2d91" text-anchor="end" textLength="28.0" lengthAdjust="spacingAndGlyphs" stroke="#5c2d91" stroke-width="1.0" stroke-linejoin="miter" stroke-miterlimit="2">12</text>
<text x="117.2" y="786.2" font-size="8.4" font-weight="bold" fill="#fff" text-anchor="middle" textLength="16.5" lengthAdjust="spacingAndGlyphs" stroke="#fff" stroke-width="0.15" stroke-linejoin="miter" stroke-miterlimit="2">FECHA</text>
<text x="117.2" y="797.0" font-size="5.5" font-weight="bold" fill="#fff" text-anchor="middle" textLength="8.6" lengthAdjust="spacingAndGlyphs">21/11</text>
<text x="153.0" y="786.2" font-size="8.4" font-weight="bold" fill="#fff" text-anchor="middle" textLength="22.7" lengthAdjust="spacingAndGlyphs" stroke="#fff" stroke-width="0.15" stroke-linejoin="miter" stroke-miterlimit="2">VÍNCULO</text>
<text x="153.0" y="797.0" font-size="5.5" font-weight="bold" fill="#fff" text-anchor="middle" textLength="4.9" lengthAdjust="spacingAndGlyphs">SD</text>
<text x="203.5" y="786.2" font-size="8.4" font-weight="bold" fill="#fff" text-anchor="middle" textLength="45.5" lengthAdjust="spacingAndGlyphs" stroke="#fff" stroke-width="0.15" stroke-linejoin="miter" stroke-miterlimit="2">LUGAR DEL HECHO</text>
<text x="203.5" y="797.0" font-size="5.5" font-weight="bold" fill="#fff" text-anchor="middle" textLength="18.6" lengthAdjust="spacingAndGlyphs">DOMICILIO</text>
<text x="253.4" y="786.2" font-size="8.4" font-weight="bold" fill="#fff" text-anchor="middle" textLength="27.4" lengthAdjust="spacingAndGlyphs" stroke="#fff" stroke-width="0.15" stroke-linejoin="miter" stroke-miterlimit="2">LOCALIDAD</text>
<text x="253.4" y="797.0" font-size="5.5" font-weight="bold" fill="#fff" text-anchor="middle" textLength="26.3" lengthAdjust="spacingAndGlyphs">CAMPO SANTO</text>
<text x="57.5" y="781.9" font-size="9.6" font-weight="bold" fill="#5c2d91" textLength="21.2" lengthAdjust="spacingAndGlyphs" stroke="#5c2d91" stroke-width="0.3" stroke-linejoin="miter" stroke-miterlimit="2">CARLA</text>
<text x="57.5" y="791.6" font-size="9.6" font-weight="bold" fill="#5c2d91" textLength="34.3" lengthAdjust="spacingAndGlyphs" stroke="#5c2d91" stroke-width="0.3" stroke-linejoin="miter" stroke-miterlimit="2">ALBORNOZ</text>
<rect x="57.5" y="794.4" width="30.0" height="1.0" fill="#5c2d91"/>
<text x="72.3" y="803.9" font-size="6.3" font-weight="bold" fill="#5c2d91" text-anchor="middle" textLength="17.6" lengthAdjust="spacingAndGlyphs" stroke="#5c2d91" stroke-width="0.15" stroke-linejoin="miter" stroke-miterlimit="2">27 AÑOS</text>
<rect x="96.4" y="833.5" width="186.2" height="29.3" fill="#662d91"/>
<text x="54.0" y="863.5" font-size="39.3" font-weight="bold" fill="#5c2d91" text-anchor="end" textLength="28.0" lengthAdjust="spacingAndGlyphs" stroke="#5c2d91" stroke-width="1.0" stroke-linejoin="miter" stroke-miterlimit="2">13</text>
<text x="117.2" y="846.2" font-size="8.4" font-weight="bold" fill="#fff" text-anchor="middle" textLength="16.5" lengthAdjust="spacingAndGlyphs" stroke="#fff" stroke-width="0.15" stroke-linejoin="miter" stroke-miterlimit="2">FECHA</text>
<text x="117.2" y="857.0" font-size="5.5" font-weight="bold" fill="#fff" text-anchor="middle" textLength="8.8" lengthAdjust="spacingAndGlyphs">05/12</text>
<text x="153.0" y="846.2" font-size="8.4" font-weight="bold" fill="#fff" text-anchor="middle" textLength="22.7" lengthAdjust="spacingAndGlyphs" stroke="#fff" stroke-width="0.15" stroke-linejoin="miter" stroke-miterlimit="2">VÍNCULO</text>
<text x="153.0" y="857.0" font-size="5.5" font-weight="bold" fill="#fff" text-anchor="middle" textLength="4.9" lengthAdjust="spacingAndGlyphs">SD</text>
<text x="203.5" y="846.2" font-size="8.4" font-weight="bold" fill="#fff" text-anchor="middle" textLength="45.5" lengthAdjust="spacingAndGlyphs" stroke="#fff" stroke-width="0.15" stroke-linejoin="miter" stroke-miterlimit="2">LUGAR DEL HECHO</text>
<text x="203.5" y="857.0" font-size="5.5" font-weight="bold" fill="#fff" text-anchor="middle" textLength="18.6" lengthAdjust="spacingAndGlyphs">DOMICILIO</text>
<text x="253.4" y="846.2" font-size="8.4" font-weight="bold" fill="#fff" text-anchor="middle" textLength="27.4" lengthAdjust="spacingAndGlyphs" stroke="#fff" stroke-width="0.15" stroke-linejoin="miter" stroke-miterlimit="2">LOCALIDAD</text>
<text x="253.4" y="857.0" font-size="5.5" font-weight="bold" fill="#fff" text-anchor="middle" textLength="11.2" lengthAdjust="spacingAndGlyphs">SALTA</text>
<text x="57.5" y="841.9" font-size="9.6" font-weight="bold" fill="#5c2d91" textLength="31.0" lengthAdjust="spacingAndGlyphs" stroke="#5c2d91" stroke-width="0.3" stroke-linejoin="miter" stroke-miterlimit="2">ROSA DEL</text>
<text x="57.5" y="851.6" font-size="9.6" font-weight="bold" fill="#5c2d91" textLength="26.5" lengthAdjust="spacingAndGlyphs" stroke="#5c2d91" stroke-width="0.3" stroke-linejoin="miter" stroke-miterlimit="2">CARMEN</text>
<text x="57.5" y="861.3" font-size="9.6" font-weight="bold" fill="#5c2d91" textLength="17.1" lengthAdjust="spacingAndGlyphs" stroke="#5c2d91" stroke-width="0.3" stroke-linejoin="miter" stroke-miterlimit="2">SOSA</text>
<rect x="57.5" y="864.1" width="30.0" height="1.0" fill="#5c2d91"/>
<text x="72.3" y="873.6" font-size="6.3" font-weight="bold" fill="#5c2d91" text-anchor="middle" textLength="17.6" lengthAdjust="spacingAndGlyphs" stroke="#5c2d91" stroke-width="0.15" stroke-linejoin="miter" stroke-miterlimit="2">55 AÑOS</text>
<rect x="96.4" y="889.0" width="186.2" height="29.3" fill="#662d91"/>
<text x="54.0" y="919.0" font-size="39.3" font-weight="bold" fill="#5c2d91" text-anchor="end" textLength="28.0" lengthAdjust="spacingAndGlyphs" stroke="#5c2d91" stroke-width="1.0" stroke-linejoin="miter" stroke-miterlimit="2">14</text>
<text x="117.2" y="901.7" font-size="8.4" font-weight="bold" fill="#fff" text-anchor="middle" textLength="16.5" lengthAdjust="spacingAndGlyphs" stroke="#fff" stroke-width="0.15" stroke-linejoin="miter" stroke-miterlimit="2">FECHA</text>
<text x="117.2" y="912.5" font-size="5.5" font-weight="bold" fill="#fff" text-anchor="middle" textLength="8.8" lengthAdjust="spacingAndGlyphs">06/12</text>
<text x="153.0" y="901.7" font-size="8.4" font-weight="bold" fill="#fff" text-anchor="middle" textLength="22.7" lengthAdjust="spacingAndGlyphs" stroke="#fff" stroke-width="0.15" stroke-linejoin="miter" stroke-miterlimit="2">VÍNCULO</text>
<text x="153.0" y="912.5" font-size="5.5" font-weight="bold" fill="#fff" text-anchor="middle" textLength="4.9" lengthAdjust="spacingAndGlyphs">SD</text>
<text x="203.5" y="901.7" font-size="8.4" font-weight="bold" fill="#fff" text-anchor="middle" textLength="45.5" lengthAdjust="spacingAndGlyphs" stroke="#fff" stroke-width="0.15" stroke-linejoin="miter" stroke-miterlimit="2">LUGAR DEL HECHO</text>
<text x="203.5" y="912.5" font-size="5.5" font-weight="bold" fill="#fff" text-anchor="middle" textLength="22.4" lengthAdjust="spacingAndGlyphs">VÍA PÚBLICA</text>
<text x="253.4" y="901.7" font-size="8.4" font-weight="bold" fill="#fff" text-anchor="middle" textLength="27.4" lengthAdjust="spacingAndGlyphs" stroke="#fff" stroke-width="0.15" stroke-linejoin="miter" stroke-miterlimit="2">LOCALIDAD</text>
<text x="253.4" y="912.5" font-size="5.5" font-weight="bold" fill="#fff" text-anchor="middle" textLength="11.2" lengthAdjust="spacingAndGlyphs">SALTA</text>
<text x="57.5" y="906.0" font-size="9.6" font-weight="bold" fill="#5c2d91" textLength="11.1" lengthAdjust="spacingAndGlyphs" stroke="#5c2d91" stroke-width="0.3" stroke-linejoin="miter" stroke-miterlimit="2">A.J.</text>
<rect x="57.5" y="910.7" width="30.0" height="1.0" fill="#5c2d91"/>
<text x="72.3" y="920.2" font-size="6.3" font-weight="bold" fill="#5c2d91" text-anchor="middle" textLength="17.6" lengthAdjust="spacingAndGlyphs" stroke="#5c2d91" stroke-width="0.15" stroke-linejoin="miter" stroke-miterlimit="2">16 AÑOS</text>
<rect x="96.4" y="943.5" width="186.2" height="29.3" fill="#662d91"/>
<text x="54.0" y="973.5" font-size="39.3" font-weight="bold" fill="#5c2d91" text-anchor="end" textLength="28.0" lengthAdjust="spacingAndGlyphs" stroke="#5c2d91" stroke-width="1.0" stroke-linejoin="miter" stroke-miterlimit="2">15</text>
<text x="117.2" y="956.2" font-size="8.4" font-weight="bold" fill="#fff" text-anchor="middle" textLength="16.5" lengthAdjust="spacingAndGlyphs" stroke="#fff" stroke-width="0.15" stroke-linejoin="miter" stroke-miterlimit="2">FECHA</text>
<text x="117.2" y="967.0" font-size="5.5" font-weight="bold" fill="#fff" text-anchor="middle" textLength="8.8" lengthAdjust="spacingAndGlyphs">23/12</text>
<text x="153.0" y="956.2" font-size="8.4" font-weight="bold" fill="#fff" text-anchor="middle" textLength="22.7" lengthAdjust="spacingAndGlyphs" stroke="#fff" stroke-width="0.15" stroke-linejoin="miter" stroke-miterlimit="2">VÍNCULO</text>
<text x="153.0" y="967.0" font-size="5.5" font-weight="bold" fill="#fff" text-anchor="middle" textLength="4.9" lengthAdjust="spacingAndGlyphs">SD</text>
<text x="203.5" y="956.2" font-size="8.4" font-weight="bold" fill="#fff" text-anchor="middle" textLength="45.5" lengthAdjust="spacingAndGlyphs" stroke="#fff" stroke-width="0.15" stroke-linejoin="miter" stroke-miterlimit="2">LUGAR DEL HECHO</text>
<text x="203.5" y="967.0" font-size="5.5" font-weight="bold" fill="#fff" text-anchor="middle" textLength="18.6" lengthAdjust="spacingAndGlyphs">DOMICILIO</text>
<text x="253.4" y="956.2" font-size="8.4" font-weight="bold" fill="#fff" text-anchor="middle" textLength="27.4" lengthAdjust="spacingAndGlyphs" stroke="#fff" stroke-width="0.15" stroke-linejoin="miter" stroke-miterlimit="2">LOCALIDAD</text>
<text x="253.4" y="967.0" font-size="5.5" font-weight="bold" fill="#fff" text-anchor="middle" textLength="26.8" lengthAdjust="spacingAndGlyphs">EMBARCACIÓN</text>
<text x="57.5" y="951.9" font-size="9.6" font-weight="bold" fill="#5c2d91" textLength="19.8" lengthAdjust="spacingAndGlyphs" stroke="#5c2d91" stroke-width="0.3" stroke-linejoin="miter" stroke-miterlimit="2">JANET</text>
<text x="57.5" y="961.6" font-size="9.6" font-weight="bold" fill="#5c2d91" textLength="24.5" lengthAdjust="spacingAndGlyphs" stroke="#5c2d91" stroke-width="0.3" stroke-linejoin="miter" stroke-miterlimit="2">FLORES</text>
<rect x="57.5" y="964.4" width="30.0" height="1.0" fill="#5c2d91"/>
<text x="72.3" y="973.9" font-size="6.3" font-weight="bold" fill="#5c2d91" text-anchor="middle" textLength="17.6" lengthAdjust="spacingAndGlyphs" stroke="#5c2d91" stroke-width="0.15" stroke-linejoin="miter" stroke-miterlimit="2">32 AÑOS</text>
<rect x="96.4" y="1000.5" width="186.2" height="29.3" fill="#662d91"/>
<text x="54.0" y="1030.5" font-size="39.3" font-weight="bold" fill="#5c2d91" text-anchor="end" textLength="28.0" lengthAdjust="spacingAndGlyphs" stroke="#5c2d91" stroke-width="1.0" stroke-linejoin="miter" stroke-miterlimit="2">16</text>
<text x="117.2" y="1013.2" font-size="8.4" font-weight="bold" fill="#fff" text-anchor="middle" textLength="16.5" lengthAdjust="spacingAndGlyphs" stroke="#fff" stroke-width="0.15" stroke-linejoin="miter" stroke-miterlimit="2">FECHA</text>
<text x="117.2" y="1024.0" font-size="5.5" font-weight="bold" fill="#fff" text-anchor="middle" textLength="8.8" lengthAdjust="spacingAndGlyphs">24/12</text>
<text x="153.0" y="1013.2" font-size="8.4" font-weight="bold" fill="#fff" text-anchor="middle" textLength="22.7" lengthAdjust="spacingAndGlyphs" stroke="#fff" stroke-width="0.15" stroke-linejoin="miter" stroke-miterlimit="2">VÍNCULO</text>
<text x="153.0" y="1024.0" font-size="5.5" font-weight="bold" fill="#fff" text-anchor="middle" textLength="19.7" lengthAdjust="spacingAndGlyphs">EX PAREJA</text>
<text x="203.5" y="1013.2" font-size="8.4" font-weight="bold" fill="#fff" text-anchor="middle" textLength="45.5" lengthAdjust="spacingAndGlyphs" stroke="#fff" stroke-width="0.15" stroke-linejoin="miter" stroke-miterlimit="2">LUGAR DEL HECHO</text>
<text x="203.5" y="1024.0" font-size="5.5" font-weight="bold" fill="#fff" text-anchor="middle" textLength="18.6" lengthAdjust="spacingAndGlyphs">DOMICILIO</text>
<text x="253.4" y="1013.2" font-size="8.4" font-weight="bold" fill="#fff" text-anchor="middle" textLength="27.4" lengthAdjust="spacingAndGlyphs" stroke="#fff" stroke-width="0.15" stroke-linejoin="miter" stroke-miterlimit="2">LOCALIDAD</text>
<text x="253.4" y="1024.0" font-size="5.5" font-weight="bold" fill="#fff" text-anchor="middle" textLength="20.3" lengthAdjust="spacingAndGlyphs">CERRILLOS</text>
<text x="57.5" y="1008.9" font-size="9.6" font-weight="bold" fill="#5c2d91" textLength="23.9" lengthAdjust="spacingAndGlyphs" stroke="#5c2d91" stroke-width="0.3" stroke-linejoin="miter" stroke-miterlimit="2">LILIANA</text>
<text x="57.5" y="1018.6" font-size="9.6" font-weight="bold" fill="#5c2d91" textLength="24.5" lengthAdjust="spacingAndGlyphs" stroke="#5c2d91" stroke-width="0.3" stroke-linejoin="miter" stroke-miterlimit="2">FLORES</text>
<rect x="57.5" y="1021.4" width="30.0" height="1.0" fill="#5c2d91"/>
<text x="72.3" y="1030.9" font-size="6.3" font-weight="bold" fill="#5c2d91" text-anchor="middle" textLength="17.6" lengthAdjust="spacingAndGlyphs" stroke="#5c2d91" stroke-width="0.15" stroke-linejoin="miter" stroke-miterlimit="2">25 AÑOS</text>
<rect x="97.3" y="1052.0" width="185.3" height="29.3" fill="#662d91"/>
<text x="51.6" y="1078.0" font-size="38.6" font-weight="bold" fill="#5c2d91" text-anchor="end" textLength="27.5" lengthAdjust="spacingAndGlyphs" stroke="#5c2d91" stroke-width="1.0" stroke-linejoin="miter" stroke-miterlimit="2">17</text>
<text x="117.2" y="1064.1" font-size="8.4" font-weight="bold" fill="#fff" text-anchor="middle" textLength="16.5" lengthAdjust="spacingAndGlyphs" stroke="#fff" stroke-width="0.15" stroke-linejoin="miter" stroke-miterlimit="2">FECHA</text>
<text x="117.2" y="1074.2" font-size="5.5" font-weight="bold" fill="#fff" text-anchor="middle" textLength="8.8" lengthAdjust="spacingAndGlyphs">25/12</text>
<text x="153.0" y="1064.1" font-size="8.4" font-weight="bold" fill="#fff" text-anchor="middle" textLength="22.7" lengthAdjust="spacingAndGlyphs" stroke="#fff" stroke-width="0.15" stroke-linejoin="miter" stroke-miterlimit="2">VÍNCULO</text>
<text x="153.0" y="1074.2" font-size="5.5" font-weight="bold" fill="#fff" text-anchor="middle" textLength="22.7" lengthAdjust="spacingAndGlyphs">SIN VÍNCULO</text>
<text x="203.5" y="1064.1" font-size="8.4" font-weight="bold" fill="#fff" text-anchor="middle" textLength="45.5" lengthAdjust="spacingAndGlyphs" stroke="#fff" stroke-width="0.15" stroke-linejoin="miter" stroke-miterlimit="2">LUGAR DEL HECHO</text>
<text x="203.5" y="1074.2" font-size="5.5" font-weight="bold" fill="#fff" text-anchor="middle" textLength="22.4" lengthAdjust="spacingAndGlyphs">VÍA PÚBLICA</text>
<text x="253.4" y="1064.1" font-size="8.4" font-weight="bold" fill="#fff" text-anchor="middle" textLength="27.4" lengthAdjust="spacingAndGlyphs" stroke="#fff" stroke-width="0.15" stroke-linejoin="miter" stroke-miterlimit="2">LOCALIDAD</text>
<text x="253.4" y="1074.2" font-size="5.5" font-weight="bold" fill="#fff" text-anchor="middle" textLength="18.8" lengthAdjust="spacingAndGlyphs">TARTAGAL</text>
<text x="55.9" y="1055.9" font-size="7.9" font-weight="bold" fill="#5c2d91" textLength="21.8" lengthAdjust="spacingAndGlyphs" stroke="#5c2d91" stroke-width="0.3" stroke-linejoin="miter" stroke-miterlimit="2">CARMEN</text>
<text x="55.9" y="1064.4" font-size="7.9" font-weight="bold" fill="#5c2d91" textLength="27.2" lengthAdjust="spacingAndGlyphs" stroke="#5c2d91" stroke-width="0.3" stroke-linejoin="miter" stroke-miterlimit="2">DEL VALLE</text>
<text x="55.9" y="1072.9" font-size="7.9" font-weight="bold" fill="#5c2d91" textLength="16.6" lengthAdjust="spacingAndGlyphs" stroke="#5c2d91" stroke-width="0.3" stroke-linejoin="miter" stroke-miterlimit="2">LOPEZ</text>
<rect x="55.9" y="1077.0" width="26.2" height="0.6" fill="#8a6ab0"/>
<text x="69.4" y="1086.0" font-size="5.7" font-weight="bold" fill="#5c2d91" text-anchor="middle" textLength="16.0" lengthAdjust="spacingAndGlyphs">34 AÑOS</text>
<rect x="419.4" y="170.6" width="162.6" height="26.4" fill="#662d91"/>
<text x="380.4" y="197.6" font-size="33.8" font-weight="bold" fill="#5c2d91" text-anchor="end" textLength="11.3" lengthAdjust="spacingAndGlyphs" stroke="#5c2d91" stroke-width="0.9" stroke-linejoin="miter" stroke-miterlimit="2">1</text>
<text x="384.5" y="178.2" font-size="8.2" font-weight="bold" fill="#5c2d91" textLength="32.6" lengthAdjust="spacingAndGlyphs" stroke="#5c2d91" stroke-width="0.3" stroke-linejoin="miter" stroke-miterlimit="2">ANTONELLA</text>
<text x="384.5" y="186.8" font-size="8.2" font-weight="bold" fill="#5c2d91" textLength="26.8" lengthAdjust="spacingAndGlyphs" stroke="#5c2d91" stroke-width="0.3" stroke-linejoin="miter" stroke-miterlimit="2">DI MARZO</text>
<rect x="384.5" y="188.6" width="30.0" height="0.9" fill="#5c2d91"/>
<text x="397.3" y="196.5" font-size="5.2" font-weight="bold" fill="#5c2d91" text-anchor="middle" textLength="16.6" lengthAdjust="spacingAndGlyphs">30 AÑOS</text>
<text x="436.9" y="181.8" font-size="7.4" font-weight="bold" fill="#fff" text-anchor="middle" textLength="14.6" lengthAdjust="spacingAndGlyphs">FECHA</text>
<text x="436.9" y="191.4" font-size="4.8" font-weight="bold" fill="#fff" text-anchor="middle" textLength="7.2" lengthAdjust="spacingAndGlyphs">27/01</text>
<text x="468.0" y="181.8" font-size="7.4" font-weight="bold" fill="#fff" text-anchor="middle" textLength="20.0" lengthAdjust="spacingAndGlyphs">VÍNCULO</text>
<text x="468.0" y="191.4" font-size="4.8" font-weight="bold" fill="#fff" text-anchor="middle" textLength="18.6" lengthAdjust="spacingAndGlyphs">SIN VÍNCULO</text>
<text x="512.5" y="181.8" font-size="7.4" font-weight="bold" fill="#fff" text-anchor="middle" textLength="40.0" lengthAdjust="spacingAndGlyphs">LUGAR DEL HECHO</text>
<text x="512.5" y="191.4" font-size="4.8" font-weight="bold" fill="#fff" text-anchor="middle" textLength="18.3" lengthAdjust="spacingAndGlyphs">VÍA PÚBLICA</text>
<text x="556.7" y="181.8" font-size="7.4" font-weight="bold" fill="#fff" text-anchor="middle" textLength="24.5" lengthAdjust="spacingAndGlyphs">LOCALIDAD</text>
<text x="556.7" y="191.4" font-size="4.8" font-weight="bold" fill="#fff" text-anchor="middle" textLength="22.2" lengthAdjust="spacingAndGlyphs">GRAL. GÜEMES</text>
<rect x="341.8" y="264.2" width="353.1" height="2.2" fill="#f3e6fb"/>
<rect x="341.8" y="505.9" width="353.1" height="2.2" fill="#f3e6fb"/>
<rect x="369.2" y="266.4" width="302.9" height="239.5" fill="#7641a1"/>
<text x="396.1" y="299.9" font-size="16.8" font-weight="bold" fill="#ae1f6a" textLength="90.6" lengthAdjust="spacingAndGlyphs" stroke="#ae1f6a" stroke-width="0.3" stroke-linejoin="miter" stroke-miterlimit="2">DEPARTAMENTO</text>
<text x="573.2" y="299.9" font-size="16.8" font-weight="bold" fill="#ae1f6a" textLength="65.2" lengthAdjust="spacingAndGlyphs" stroke="#ae1f6a" stroke-width="0.3" stroke-linejoin="miter" stroke-miterlimit="2">FEMICIDIOS</text>
<text x="396.1" y="324.0" font-size="17.9" font-weight="bold" fill="#fff" textLength="45.7" lengthAdjust="spacingAndGlyphs" stroke="#fff" stroke-width="0.45" stroke-linejoin="miter" stroke-miterlimit="2">CAPITAL</text>
<text x="608.9" y="324.0" font-size="17.9" font-weight="bold" fill="#fff" text-anchor="middle" textLength="6.6" lengthAdjust="spacingAndGlyphs" stroke="#fff" stroke-width="0.45" stroke-linejoin="miter" stroke-miterlimit="2">5</text>
<text x="396.1" y="347.2" font-size="17.9" font-weight="bold" fill="#fff" textLength="174.2" lengthAdjust="spacingAndGlyphs" stroke="#fff" stroke-width="0.45" stroke-linejoin="miter" stroke-miterlimit="2">GENERAL JOSÉ DE SAN MARTÍN</text>
<text x="608.9" y="347.2" font-size="17.9" font-weight="bold" fill="#fff" text-anchor="middle" textLength="6.6" lengthAdjust="spacingAndGlyphs" stroke="#fff" stroke-width="0.45" stroke-linejoin="miter" stroke-miterlimit="2">6</text>
<text x="396.1" y="370.4" font-size="17.9" font-weight="bold" fill="#fff" textLength="59.2" lengthAdjust="spacingAndGlyphs" stroke="#fff" stroke-width="0.45" stroke-linejoin="miter" stroke-miterlimit="2">RIVADAVIA</text>
<text x="608.9" y="370.4" font-size="17.9" font-weight="bold" fill="#fff" text-anchor="middle" textLength="6.6" lengthAdjust="spacingAndGlyphs" stroke="#fff" stroke-width="0.45" stroke-linejoin="miter" stroke-miterlimit="2">1</text>
<text x="396.1" y="393.6" font-size="17.9" font-weight="bold" fill="#fff" textLength="70.5" lengthAdjust="spacingAndGlyphs" stroke="#fff" stroke-width="0.45" stroke-linejoin="miter" stroke-miterlimit="2">SAN CARLOS</text>
<text x="608.9" y="393.6" font-size="17.9" font-weight="bold" fill="#fff" text-anchor="middle" textLength="6.6" lengthAdjust="spacingAndGlyphs" stroke="#fff" stroke-width="0.45" stroke-linejoin="miter" stroke-miterlimit="2">1</text>
<text x="396.1" y="416.8" font-size="17.9" font-weight="bold" fill="#fff" textLength="101.9" lengthAdjust="spacingAndGlyphs" stroke="#fff" stroke-width="0.45" stroke-linejoin="miter" stroke-miterlimit="2">GENERAL GÜEMES</text>
<text x="608.9" y="416.8" font-size="17.9" font-weight="bold" fill="#fff" text-anchor="middle" textLength="6.6" lengthAdjust="spacingAndGlyphs" stroke="#fff" stroke-width="0.45" stroke-linejoin="miter" stroke-miterlimit="2">1</text>
<text x="396.1" y="440.0" font-size="17.9" font-weight="bold" fill="#fff" textLength="43.9" lengthAdjust="spacingAndGlyphs" stroke="#fff" stroke-width="0.45" stroke-linejoin="miter" stroke-miterlimit="2">LA VIÑA</text>
<text x="608.9" y="440.0" font-size="17.9" font-weight="bold" fill="#fff" text-anchor="middle" textLength="6.6" lengthAdjust="spacingAndGlyphs" stroke="#fff" stroke-width="0.45" stroke-linejoin="miter" stroke-miterlimit="2">1</text>
<text x="396.1" y="463.2" font-size="17.9" font-weight="bold" fill="#fff" textLength="61.8" lengthAdjust="spacingAndGlyphs" stroke="#fff" stroke-width="0.45" stroke-linejoin="miter" stroke-miterlimit="2">CERRILLOS</text>
<text x="608.9" y="463.2" font-size="17.9" font-weight="bold" fill="#fff" text-anchor="middle" textLength="6.6" lengthAdjust="spacingAndGlyphs" stroke="#fff" stroke-width="0.45" stroke-linejoin="miter" stroke-miterlimit="2">2</text>
<text x="396.1" y="486.4" font-size="17.9" font-weight="bold" fill="#ae1f6a" textLength="34.5" lengthAdjust="spacingAndGlyphs" stroke="#ae1f6a" stroke-width="0.3" stroke-linejoin="miter" stroke-miterlimit="2">TOTAL</text>
<text x="614.0" y="486.4" font-size="17.9" font-weight="bold" fill="#ae1f6a" text-anchor="middle" textLength="13.1" lengthAdjust="spacingAndGlyphs" stroke="#ae1f6a" stroke-width="0.3" stroke-linejoin="miter" stroke-miterlimit="2">17</text>
<rect x="720.6" y="299.8" width="346.6" height="207.5" fill="#fff"/>
<text x="894.4" y="319.8" font-size="13.2" fill="#5f3a96" text-anchor="middle" textLength="148.7" lengthAdjust="spacingAndGlyphs">Femicidios 2019 por meses</text>
<rect x="774.3" y="336.0" width="0.8" height="150.0" fill="#e9e6ee"/>
<text x="774.7" y="501.4" font-size="8.2" fill="#6f5b95" text-anchor="middle">0</text>
<rect x="821.4" y="336.0" width="0.8" height="150.0" fill="#e9e6ee"/>
<text x="821.8" y="501.4" font-size="8.2" fill="#6f5b95" text-anchor="middle">1</text>
<rect x="868.5" y="336.0" width="0.8" height="150.0" fill="#e9e6ee"/>
<text x="868.9" y="501.4" font-size="8.2" fill="#6f5b95" text-anchor="middle">2</text>
<rect x="915.6" y="336.0" width="0.8" height="150.0" fill="#e9e6ee"/>
<text x="916.0" y="501.4" font-size="8.2" fill="#6f5b95" text-anchor="middle">3</text>
<rect x="962.7" y="336.0" width="0.8" height="150.0" fill="#e9e6ee"/>
<text x="963.1" y="501.4" font-size="8.2" fill="#6f5b95" text-anchor="middle">4</text>
<rect x="1009.8" y="336.0" width="0.8" height="150.0" fill="#e9e6ee"/>
<text x="1010.2" y="501.4" font-size="8.2" fill="#6f5b95" text-anchor="middle">5</text>
<rect x="1056.9" y="336.0" width="0.8" height="150.0" fill="#e9e6ee"/>
<text x="1057.3" y="501.4" font-size="8.2" fill="#6f5b95" text-anchor="middle">6</text>
<rect x="774.7" y="341.9" width="235.5" height="6.0" fill="#a06fd6"/>
<text x="766.7" y="347.6" font-size="8.8" fill="#7652ad" text-anchor="end" textLength="36.0" lengthAdjust="spacingAndGlyphs">diciembre</text>
<rect x="774.7" y="360.8" width="141.3" height="6.0" fill="#a06fd6"/>
<text x="766.7" y="366.5" font-size="8.8" fill="#7652ad" text-anchor="end" textLength="38.6" lengthAdjust="spacingAndGlyphs">noviembre</text>
<rect x="774.7" y="379.7" width="94.2" height="6.0" fill="#a06fd6"/>
<text x="766.7" y="385.4" font-size="8.8" fill="#7652ad" text-anchor="end" textLength="27.8" lengthAdjust="spacingAndGlyphs">octubre</text>
<rect x="774.7" y="398.6" width="94.2" height="6.0" fill="#a06fd6"/>
<text x="766.7" y="404.3" font-size="8.8" fill="#7652ad" text-anchor="end" textLength="40.8" lengthAdjust="spacingAndGlyphs">septiembre</text>
<rect x="774.7" y="417.5" width="47.1" height="6.0" fill="#a06fd6"/>
<text x="766.7" y="423.2" font-size="8.8" fill="#7652ad" text-anchor="end" textLength="15.2" lengthAdjust="spacingAndGlyphs">julio</text>
<rect x="774.7" y="436.4" width="47.1" height="6.0" fill="#a06fd6"/>
<text x="766.7" y="442.1" font-size="8.8" fill="#7652ad" text-anchor="end" textLength="18.0" lengthAdjust="spacingAndGlyphs">junio</text>
<rect x="774.7" y="455.4" width="94.2" height="6.0" fill="#a06fd6"/>
<text x="766.7" y="461.1" font-size="8.8" fill="#7652ad" text-anchor="end" textLength="19.8" lengthAdjust="spacingAndGlyphs">mayo</text>
<rect x="774.7" y="474.3" width="47.1" height="6.0" fill="#a06fd6"/>
<text x="766.7" y="480.0" font-size="8.8" fill="#7652ad" text-anchor="end" textLength="17.0" lengthAdjust="spacingAndGlyphs">Abril</text>
<rect x="332.0" y="533.5" width="381.8" height="171.7" fill="#f6e9fd"/>
<text x="522.5" y="550.3" font-size="12" font-weight="bold" fill="#6b3a9c" text-anchor="middle" textLength="178.3" lengthAdjust="spacingAndGlyphs">Edades agrupadas de las víctimas</text>
<text x="337.3" y="684.8" font-size="8" font-weight="bold" fill="#5d3590" text-anchor="middle">0</text>
<rect x="345.6" y="664.7" width="360.0" height="0.8" fill="#e6d6f1"/>
<text x="337.3" y="668.1" font-size="8" font-weight="bold" fill="#5d3590" text-anchor="middle">1</text>
<rect x="345.6" y="648.0" width="360.0" height="0.8" fill="#e6d6f1"/>
<text x="337.3" y="651.4" font-size="8" font-weight="bold" fill="#5d3590" text-anchor="middle">2</text>
<rect x="345.6" y="631.3" width="360.0" height="0.8" fill="#e6d6f1"/>
<text x="337.3" y="634.7" font-size="8" font-weight="bold" fill="#5d3590" text-anchor="middle">3</text>
<rect x="345.6" y="614.6" width="360.0" height="0.8" fill="#e6d6f1"/>
<text x="337.3" y="618.0" font-size="8" font-weight="bold" fill="#5d3590" text-anchor="middle">4</text>
<rect x="345.6" y="597.9" width="360.0" height="0.8" fill="#e6d6f1"/>
<text x="337.3" y="601.3" font-size="8" font-weight="bold" fill="#5d3590" text-anchor="middle">5</text>
<rect x="345.6" y="581.2" width="360.0" height="0.8" fill="#e6d6f1"/>
<text x="337.3" y="584.6" font-size="8" font-weight="bold" fill="#5d3590" text-anchor="middle">6</text>
<rect x="345.6" y="564.5" width="360.0" height="0.8" fill="#e6d6f1"/>
<text x="337.3" y="567.9" font-size="8" font-weight="bold" fill="#5d3590" text-anchor="middle">7</text>
<rect x="373.0" y="615.0" width="22.6" height="66.8" fill="#662d91"/>
<text x="384.3" y="628.2" font-size="8.4" font-weight="bold" fill="#f3e6fb" text-anchor="middle">4</text>
<text x="384.3" y="697.2" font-size="8.2" font-weight="bold" fill="#5d3590" text-anchor="middle" textLength="19.9" lengthAdjust="spacingAndGlyphs">14-19</text>
<rect x="444.6" y="581.6" width="22.6" height="100.2" fill="#662d91"/>
<text x="455.9" y="594.8" font-size="8.4" font-weight="bold" fill="#f3e6fb" text-anchor="middle">6</text>
<text x="455.9" y="697.2" font-size="8.2" font-weight="bold" fill="#5d3590" text-anchor="middle" textLength="19.9" lengthAdjust="spacingAndGlyphs">20-30</text>
<rect x="516.2" y="615.0" width="22.6" height="66.8" fill="#662d91"/>
<text x="527.5" y="628.2" font-size="8.4" font-weight="bold" fill="#f3e6fb" text-anchor="middle">4</text>
<text x="527.5" y="697.2" font-size="8.2" font-weight="bold" fill="#5d3590" text-anchor="middle" textLength="19.9" lengthAdjust="spacingAndGlyphs">31-40</text>
<rect x="587.8" y="665.1" width="22.6" height="16.7" fill="#662d91"/>
<text x="599.1" y="678.3" font-size="8.4" font-weight="bold" fill="#f3e6fb" text-anchor="middle">1</text>
<text x="599.1" y="697.2" font-size="8.2" font-weight="bold" fill="#5d3590" text-anchor="middle" textLength="19.9" lengthAdjust="spacingAndGlyphs">41-50</text>
<rect x="659.4" y="648.4" width="22.6" height="33.4" fill="#662d91"/>
<text x="670.7" y="661.6" font-size="8.4" font-weight="bold" fill="#f3e6fb" text-anchor="middle">2</text>
<text x="670.7" y="697.2" font-size="8.2" font-weight="bold" fill="#5d3590" text-anchor="middle" textLength="32.9" lengthAdjust="spacingAndGlyphs">51 y más</text>
<rect x="720.6" y="533.3" width="346.6" height="263.4" fill="#fff"/>
<text x="896.2" y="551.0" font-size="12.2" fill="#5f3a96" text-anchor="middle" textLength="239.9" lengthAdjust="spacingAndGlyphs">Femicidios, crimenes de odio y transfemicidos</text>
<text x="896.6" y="566.6" font-size="12.2" fill="#5f3a96" text-anchor="middle" textLength="157.3" lengthAdjust="spacingAndGlyphs">2016-2019 - Provincia de Salta</text>
<rect x="739.0" y="740.4" width="325.4" height="0.8" fill="#e4e0ea"/>
<text x="729.0" y="743.6" font-size="7.6" fill="#7a66a0" text-anchor="middle">0</text>
<rect x="739.0" y="713.8" width="325.4" height="0.8" fill="#e4e0ea"/>
<text x="729.0" y="717.0" font-size="7.6" fill="#7a66a0" text-anchor="middle">5</text>
<rect x="739.0" y="687.2" width="325.4" height="0.8" fill="#e4e0ea"/>
<text x="729.0" y="690.4" font-size="7.6" fill="#7a66a0" text-anchor="middle">10</text>
<rect x="739.0" y="660.6" width="325.4" height="0.8" fill="#e4e0ea"/>
<text x="729.0" y="663.8" font-size="7.6" fill="#7a66a0" text-anchor="middle">15</text>
<rect x="739.0" y="634.1" width="325.4" height="0.8" fill="#e4e0ea"/>
<text x="729.0" y="637.3" font-size="7.6" fill="#7a66a0" text-anchor="middle">20</text>
<rect x="739.0" y="607.5" width="325.4" height="0.8" fill="#e4e0ea"/>
<text x="729.0" y="610.7" font-size="7.6" fill="#7a66a0" text-anchor="middle">25</text>
<rect x="739.0" y="580.9" width="325.4" height="0.8" fill="#e4e0ea"/>
<text x="729.0" y="584.1" font-size="7.6" fill="#7a66a0" text-anchor="middle">30</text>
<rect x="765.3" y="692.9" width="32.2" height="47.9" fill="#a372d8"/>
<text x="781.4" y="753.6" font-size="7.6" fill="#7a66a0" text-anchor="middle">2016</text>
<text x="781.4" y="719.5" font-size="7.4" fill="#5a3d8a" text-anchor="middle">9</text>
<rect x="845.4" y="618.5" width="32.2" height="122.3" fill="#a372d8"/>
<rect x="845.4" y="613.2" width="32.2" height="5.3" fill="#ad80de"/>
<rect x="845.4" y="607.9" width="32.2" height="5.3" fill="#b78ee4"/>
<text x="861.5" y="753.6" font-size="7.6" fill="#7a66a0" text-anchor="middle">2017</text>
<text x="861.5" y="682.3" font-size="7.4" fill="#5a3d8a" text-anchor="middle">23</text>
<rect x="926.6" y="682.3" width="32.2" height="58.5" fill="#a372d8"/>
<text x="942.7" y="753.6" font-size="7.6" fill="#7a66a0" text-anchor="middle">2018</text>
<text x="942.7" y="714.2" font-size="7.4" fill="#5a3d8a" text-anchor="middle">11</text>
<rect x="1007.7" y="650.4" width="32.2" height="90.4" fill="#a372d8"/>
<rect x="1007.7" y="645.1" width="32.2" height="5.3" fill="#c3a0ea"/>
<text x="1023.8" y="753.6" font-size="7.6" fill="#7a66a0" text-anchor="middle">2019</text>
<text x="1023.8" y="698.2" font-size="7.4" fill="#5a3d8a" text-anchor="middle">17</text>
<text x="861.7" y="618.4" font-size="6.6" fill="#5a3d8a" text-anchor="middle">1</text>
<text x="873.7" y="611.2" font-size="6.6" fill="#5a3d8a" text-anchor="middle">1</text>
<text x="1023.8" y="650.1" font-size="6.6" fill="#5a3d8a" text-anchor="middle">1</text>
<rect x="747.1" y="768.3" width="4.1" height="4.1" fill="#a372d8"/>
<text x="753.5" y="773.1" font-size="7.9" fill="#8f6cc4" textLength="33.2" lengthAdjust="spacingAndGlyphs">Femicidio</text>
<rect x="899.2" y="768.3" width="4.1" height="4.1" fill="#a372d8"/>
<text x="905.6" y="773.1" font-size="7.9" fill="#8f6cc4" textLength="72.3" lengthAdjust="spacingAndGlyphs">Femicidios vinculados</text>
<rect x="747.1" y="784.5" width="4.1" height="4.1" fill="#ad80de"/>
<text x="753.5" y="789.3" font-size="7.9" fill="#8f6cc4" textLength="140.6" lengthAdjust="spacingAndGlyphs">Crímenes de odio por identidad de género</text>
<rect x="899.2" y="784.5" width="4.1" height="4.1" fill="#c3a0ea"/>
<text x="905.6" y="789.3" font-size="7.9" fill="#8f6cc4" textLength="53.1" lengthAdjust="spacingAndGlyphs">Transfemicidios</text>
<rect x="332.0" y="769.4" width="224.3" height="284.9" fill="#f6e9fd"/>
<text x="443.5" y="788.6" font-size="14" font-weight="bold" fill="#6d3b9e" text-anchor="middle" textLength="138.9" lengthAdjust="spacingAndGlyphs">Vínculo con el agresor</text>
<path d="M443.5,838.8A84,84 0 0 1 510.5,973.4L494.6,961.4A64,64 0 0 0 443.5,858.8Z" fill="#7d48b0" stroke="#f6e9fd" stroke-width="1.7" stroke-linejoin="round"/>
<path d="M510.5,973.4A84,84 0 0 1 459.0,1005.4L455.3,985.7A64,64 0 0 0 494.6,961.4Z" fill="#8852ba" stroke="#f6e9fd" stroke-width="1.7" stroke-linejoin="round"/>
<path d="M459.0,1005.4A84,84 0 0 1 399.3,994.3L409.9,977.2A64,64 0 0 0 455.3,985.7Z" fill="#d6b6f4" stroke="#f6e9fd" stroke-width="1.7" stroke-linejoin="round"/>
<path d="M399.3,994.3A84,84 0 0 1 443.4,838.8L443.5,858.8A64,64 0 0 0 409.9,977.2Z" fill="#dbc2f7" stroke="#f6e9fd" stroke-width="1.7" stroke-linejoin="round"/>
<text x="534.4" y="889.4" font-size="9.8" font-weight="bold" fill="#55308a" text-anchor="middle">35%</text>
<text x="495.3" y="1009.2" font-size="9.8" font-weight="bold" fill="#55308a" text-anchor="middle">12%</text>
<text x="410.2" y="1014.7" font-size="9.8" font-weight="bold" fill="#55308a" text-anchor="middle">12%</text>
<text x="363.8" y="870.4" font-size="9.8" font-weight="bold" fill="#55308a" text-anchor="middle">41%</text>
<rect x="357.1" y="1040.7" width="3.4" height="3.4" fill="#5f3094"/>
<text x="363.7" y="1045.6" font-size="9.2" fill="#8460b8" textLength="24.9" lengthAdjust="spacingAndGlyphs">Pareja</text>
<rect x="398.9" y="1040.7" width="3.4" height="3.4" fill="#6d3aa3"/>
<text x="405.9" y="1045.6" font-size="9.2" fill="#8460b8" textLength="37.0" lengthAdjust="spacingAndGlyphs">Ex pareja</text>
<rect x="452.9" y="1040.7" width="3.4" height="3.4" fill="#d2b4ef"/>
<text x="460.0" y="1045.6" font-size="9.2" fill="#8460b8" textLength="21.6" lengthAdjust="spacingAndGlyphs">Otros</text>
<rect x="492.7" y="1040.7" width="3.4" height="3.4" fill="#d9c2f5"/>
<text x="498.7" y="1045.6" font-size="9.2" fill="#8460b8" textLength="35.8" lengthAdjust="spacingAndGlyphs">Sin datos</text>
<rect x="569.8" y="828.1" width="279.9" height="226.5" fill="#f6e9fd"/>
<text x="709.7" y="844.3" font-size="13.6" font-weight="bold" fill="#6d3b9e" text-anchor="middle" textLength="120.7" lengthAdjust="spacingAndGlyphs">Género del agresor</text>
<path d="M710,940.7L710.0,873.5A67.2,67.2 0 1 1 649.8,910.8Z" fill="#662d91" stroke="#f6e9fd" stroke-width="1.7" stroke-linejoin="round"/>
<path d="M710,940.7L649.8,910.8A67.2,67.2 0 0 1 710.0,873.5Z" fill="#dcc1f8" stroke="#f6e9fd" stroke-width="1.7" stroke-linejoin="round"/>
<text x="683.1" y="901.0" font-size="9.8" font-weight="bold" fill="#55308a" text-anchor="middle">18%</text>
<text x="739.3" y="984.0" font-size="9.8" font-weight="bold" fill="#f6e9fd" text-anchor="middle">82%</text>
<rect x="595.7" y="1033.2" width="46.9" height="7.2" fill="#fbf5ff" stroke="#a77bd8" stroke-width="0.9"/>
<text x="619.2" y="1038.6" font-size="4.9" fill="#6b3a9c" text-anchor="middle" textLength="39.0" lengthAdjust="spacingAndGlyphs">Área del gráfico</text>
<rect x="670.8" y="1038.4" width="3.2" height="3.2" fill="#662d91"/>
<text x="676.2" y="1043.3" font-size="9.2" fill="#8460b8" textLength="25.5" lengthAdjust="spacingAndGlyphs">Varón</text>
<rect x="710.6" y="1038.4" width="3.2" height="3.2" fill="#dcc1f8"/>
<text x="716.5" y="1043.3" font-size="9.2" fill="#8460b8" textLength="36.7" lengthAdjust="spacingAndGlyphs">Sin datos</text>
<rect x="861.5" y="834.4" width="205.2" height="220.3" fill="#f6e9fd"/>
<text x="963.6" y="854.3" font-size="13.6" font-weight="bold" fill="#4e2c80" text-anchor="middle" textLength="136.8" lengthAdjust="spacingAndGlyphs">Ámbito de ocurrencia</text>
<path d="M963.6,945.8L963.6,873.0A72.8,72.8 0 1 1 950.2,1017.4Z" fill="#662d91" stroke="#f6e9fd" stroke-width="1.7" stroke-linejoin="round"/>
<path d="M963.6,945.8L950.2,1017.4A72.8,72.8 0 0 1 937.3,877.9Z" fill="#8551b6" stroke="#f6e9fd" stroke-width="1.7" stroke-linejoin="round"/>
<path d="M963.6,945.8L937.3,877.9A72.8,72.8 0 0 1 963.6,873.0Z" fill="#b88ce2" stroke="#f6e9fd" stroke-width="1.7" stroke-linejoin="round"/>
<text x="1021.7" y="953.8" font-size="9.8" font-weight="bold" fill="#f6e9fd" text-anchor="middle">53%</text>
<text x="905.9" y="953.8" font-size="9.8" font-weight="bold" fill="#f6e9fd" text-anchor="middle">41%</text>
<text x="952.3" y="888.0" font-size="9.8" font-weight="bold" fill="#f6e9fd" text-anchor="middle">6%</text>
<rect x="886.6" y="1038.4" width="3.4" height="3.4" fill="#662d91"/>
<text x="892.3" y="1043.3" font-size="9.2" fill="#8460b8" textLength="34.5" lengthAdjust="spacingAndGlyphs">Vivienda</text>
<rect x="940.8" y="1038.4" width="3.4" height="3.4" fill="#8551b6"/>
<text x="946.9" y="1043.3" font-size="9.2" fill="#8460b8" textLength="44.8" lengthAdjust="spacingAndGlyphs">Vía pública</text>
<rect x="1002.0" y="1038.4" width="3.4" height="3.4" fill="#b88ce2"/>
<text x="1008.2" y="1043.3" font-size="9.2" fill="#8460b8" textLength="37.2" lengthAdjust="spacingAndGlyphs">Sin datos</text>
<rect x="294.8" y="1119.5" width="493.1" height="130.6" rx="9" fill="#b02077"/>
<circle cx="361.2" cy="1184" r="30.5" fill="#fff"/>
<polygon points="385.8,1183.5 373.3,1205.1 348.4,1205.1 336.0,1183.5 348.4,1161.9 373.3,1161.9" fill="#b02077"/>
<g fill="#fff"><path d="M344.7,1173.3C352,1172.5 359.5,1176 360.3,1182C360.5,1185 360,1187.5 359,1189L350.5,1191Z"/><path d="M350.6,1192.2L359.3,1190C360,1195 356,1199.5 349,1200.2Z"/><path d="M371,1168C363,1170.5 359.5,1177 361,1182.5C361.3,1184.5 361.8,1186 362.5,1187L372.8,1185.5Z"/><path d="M362.8,1188.2L373,1186.5C375.5,1188 377.2,1190.5 377.8,1192.8C372,1195 365.5,1193.5 362.8,1188.2Z"/></g>
<text x="401.2" y="1180.8" font-size="26.2" fill="#fff" textLength="147.8" lengthAdjust="spacingAndGlyphs" stroke="#fff" stroke-width="0.25" stroke-linejoin="miter" stroke-miterlimit="2">Observatorio</text>
<text x="401.2" y="1202.8" font-size="26.2" fill="#fff" textLength="350.4" lengthAdjust="spacingAndGlyphs" stroke="#fff" stroke-width="0.25" stroke-linejoin="miter" stroke-miterlimit="2">de Violencia contra las Mujeres</text>
</svg></body></html>
